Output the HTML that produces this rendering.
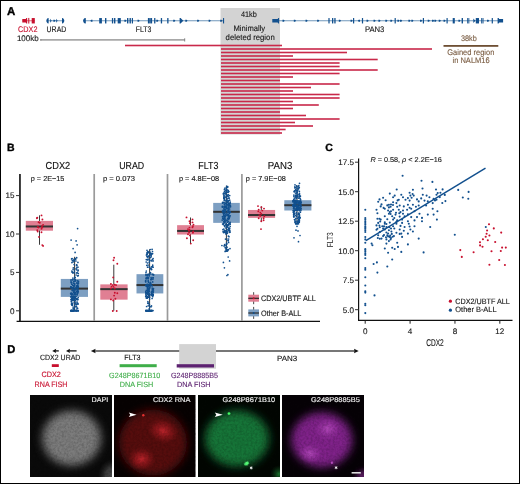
<!DOCTYPE html>
<html><head><meta charset="utf-8"><style>
html,body{margin:0;padding:0;background:#fff;}
svg{display:block;}
text{font-family:"Liberation Sans",sans-serif;text-rendering:geometricPrecision;}
svg{will-change:transform;}
</style></head><body>
<svg width="520" height="484" viewBox="0 0 520 484">
<rect width="520" height="484" fill="#fff"/>
<text x="7.1" y="14.8" font-size="11.3" fill="#000" stroke="#000" stroke-width="0.35" text-anchor="start" font-weight="bold" textLength="8.3" lengthAdjust="spacingAndGlyphs" >A</text>
<rect x="220.5" y="8" width="59.5" height="126.5" fill="#d3d3d3" />
<rect x="125" y="44.7" width="157" height="1.6" fill="#c9294a" />
<rect x="221" y="48.2" width="211" height="1.6" fill="#c9294a" />
<rect x="221" y="51.7" width="126" height="1.6" fill="#c9294a" />
<rect x="221" y="55.2" width="72" height="1.6" fill="#c9294a" />
<rect x="221" y="58.7" width="156.7" height="1.6" fill="#c9294a" />
<rect x="221" y="62.2" width="118.60000000000002" height="1.6" fill="#c9294a" />
<rect x="221" y="65.7" width="118.60000000000002" height="1.6" fill="#c9294a" />
<rect x="221" y="69.2" width="156.7" height="1.6" fill="#c9294a" />
<rect x="221" y="72.7" width="118.60000000000002" height="1.6" fill="#c9294a" />
<rect x="221" y="76.2" width="72" height="1.6" fill="#c9294a" />
<rect x="221" y="79.7" width="59" height="1.6" fill="#c9294a" />
<rect x="221" y="83.2" width="118.60000000000002" height="1.6" fill="#c9294a" />
<rect x="221" y="86.7" width="90" height="1.6" fill="#c9294a" />
<rect x="221" y="90.2" width="72" height="1.6" fill="#c9294a" />
<rect x="221" y="93.7" width="118.60000000000002" height="1.6" fill="#c9294a" />
<rect x="221" y="97.2" width="118.60000000000002" height="1.6" fill="#c9294a" />
<rect x="221" y="100.7" width="72" height="1.6" fill="#c9294a" />
<rect x="221" y="104.2" width="97.80000000000001" height="1.6" fill="#c9294a" />
<rect x="221" y="107.7" width="72" height="1.6" fill="#c9294a" />
<rect x="221" y="111.2" width="59" height="1.6" fill="#c9294a" />
<rect x="221" y="114.7" width="85" height="1.6" fill="#c9294a" />
<rect x="221" y="118.2" width="118.60000000000002" height="1.6" fill="#c9294a" />
<rect x="221" y="121.7" width="74" height="1.6" fill="#c9294a" />
<rect x="221" y="125.2" width="92" height="1.6" fill="#c9294a" />
<rect x="221" y="128.7" width="64.60000000000002" height="1.6" fill="#c9294a" />
<rect x="221" y="132.2" width="61" height="1.6" fill="#c9294a" />
<line x1="22.5" y1="20.75" x2="34.8" y2="20.75" stroke="#c8102e" stroke-width="0.75" opacity="0.8"/>
<path d="M22.3 19.0 L25.8 19.0 L26.3 17.95 L27.1 17.95 L27.1 23.55 L26.3 23.55 L25.8 22.5 L22.3 22.5 Z" fill="#c8102e"/>
<rect x="27.9" y="17.95" width="1.5" height="5.6" fill="#c8102e" opacity="0.75"/>
<rect x="31.7" y="18.05" width="3.099999999999998" height="5.4" fill="#c8102e" />
<line x1="47" y1="20.75" x2="63" y2="20.75" stroke="#12508e" stroke-width="0.75" opacity="0.8"/>
<path d="M48.6 18.05 L48.6 23.45 L47.5 23.15 Q46.3 21.95 46.3 20.75 Q46.3 19.55 47.5 18.35 Z" fill="#12508e"/>
<path d="M62 18.05 L62 23.45 L63.099999999999994 23.15 Q64.3 21.95 64.3 20.75 Q64.3 19.55 63.099999999999994 18.35 Z" fill="#12508e"/>
<path d="M50 18.75 L51.8 20.75 L50 22.75 Z" fill="#12508e" opacity="0.8"/>
<path d="M53.4 19.8 L54.699999999999996 19.8 L55.6 20.75 L54.699999999999996 21.7 L53.4 21.7 Z" fill="#12508e"/>
<path d="M56 18.75 L57.8 20.75 L56 22.75 Z" fill="#12508e" opacity="0.8"/>
<line x1="84" y1="20.75" x2="223.5" y2="20.75" stroke="#12508e" stroke-width="0.75" opacity="0.8"/>
<path d="M85.8 18.05 L85.8 23.45 L84.3 23.15 Q83.1 21.95 83.1 20.75 Q83.1 19.55 84.3 18.35 Z" fill="#12508e"/>
<path d="M92.5 19.8 L91.2 19.8 L90.3 20.75 L91.2 21.7 L92.5 21.7 Z" fill="#12508e"/>
<rect x="99.2" y="18.05" width="2.700000000000003" height="5.4" fill="#12508e" />
<rect x="105" y="18.05" width="1.4000000000000057" height="5.4" fill="#12508e" />
<rect x="111.9" y="18.05" width="1.2999999999999972" height="5.4" fill="#12508e" />
<rect x="114" y="18.05" width="1.4000000000000057" height="5.4" fill="#12508e" />
<rect x="117.7" y="18.05" width="3.0999999999999943" height="5.4" fill="#12508e" />
<rect x="127" y="18.05" width="1.4000000000000057" height="5.4" fill="#12508e" />
<rect x="129.5" y="18.05" width="1.4000000000000057" height="5.4" fill="#12508e" />
<rect x="131.8" y="18.05" width="1.1999999999999886" height="5.4" fill="#12508e" />
<rect x="147.9" y="18.05" width="1.9000000000000057" height="5.4" fill="#12508e" />
<rect x="150.2" y="18.05" width="1.9000000000000057" height="5.4" fill="#12508e" />
<rect x="154.1" y="18.05" width="1.3000000000000114" height="5.4" fill="#12508e" />
<rect x="160.8" y="18.05" width="1.299999999999983" height="5.4" fill="#12508e" />
<rect x="167.2" y="18.05" width="1.3000000000000114" height="5.4" fill="#12508e" />
<rect x="223" y="18.05" width="1.0999999999999943" height="5.4" fill="#12508e" />
<path d="M124.4 19.8 L125.7 19.8 L126.60000000000001 20.75 L125.7 21.7 L124.4 21.7 Z" fill="#12508e"/>
<path d="M137.5 19.8 L138.8 19.8 L139.7 20.75 L138.8 21.7 L137.5 21.7 Z" fill="#12508e"/>
<path d="M156.3 19.8 L157.60000000000002 19.8 L158.5 20.75 L157.60000000000002 21.7 L156.3 21.7 Z" fill="#12508e"/>
<path d="M173.2 19.8 L174.5 19.8 L175.39999999999998 20.75 L174.5 21.7 L173.2 21.7 Z" fill="#12508e"/>
<path d="M185.3 19.8 L186.60000000000002 19.8 L187.5 20.75 L186.60000000000002 21.7 L185.3 21.7 Z" fill="#12508e"/>
<path d="M197.1 19.8 L198.4 19.8 L199.29999999999998 20.75 L198.4 21.7 L197.1 21.7 Z" fill="#12508e"/>
<path d="M208.6 19.8 L209.9 19.8 L210.79999999999998 20.75 L209.9 21.7 L208.6 21.7 Z" fill="#12508e"/>
<path d="M220.2 19.8 L221.5 19.8 L222.39999999999998 20.75 L221.5 21.7 L220.2 21.7 Z" fill="#12508e"/>
<path d="M179.6 18.05 L180.6 18.05 L183.3 20.75 L180.6 23.45 L179.6 23.45 Z" fill="#12508e"/>
<line x1="273" y1="20.75" x2="502" y2="20.75" stroke="#12508e" stroke-width="0.75" opacity="0.8"/>
<path d="M272.3 19.05 L277.7 19.05 L278.3 18.05 L279.1 18.05 L279.1 23.45 L278.3 23.45 L277.7 22.45 L272.3 22.45 Z" fill="#12508e"/>
<path d="M282.5 19.8 L283.8 19.8 L284.7 20.75 L283.8 21.7 L282.5 21.7 Z" fill="#12508e"/>
<path d="M293.8 19.8 L295.1 19.8 L296.0 20.75 L295.1 21.7 L293.8 21.7 Z" fill="#12508e"/>
<path d="M305.5 19.8 L306.8 19.8 L307.7 20.75 L306.8 21.7 L305.5 21.7 Z" fill="#12508e"/>
<path d="M317.1 19.8 L318.40000000000003 19.8 L319.3 20.75 L318.40000000000003 21.7 L317.1 21.7 Z" fill="#12508e"/>
<path d="M338.8 19.8 L340.1 19.8 L341.0 20.75 L340.1 21.7 L338.8 21.7 Z" fill="#12508e"/>
<path d="M350.5 19.8 L351.8 19.8 L352.7 20.75 L351.8 21.7 L350.5 21.7 Z" fill="#12508e"/>
<path d="M366.5 19.8 L367.8 19.8 L368.7 20.75 L367.8 21.7 L366.5 21.7 Z" fill="#12508e"/>
<path d="M373.5 19.8 L374.8 19.8 L375.7 20.75 L374.8 21.7 L373.5 21.7 Z" fill="#12508e"/>
<path d="M378.4 19.8 L379.7 19.8 L380.59999999999997 20.75 L379.7 21.7 L378.4 21.7 Z" fill="#12508e"/>
<path d="M385.3 19.8 L386.6 19.8 L387.5 20.75 L386.6 21.7 L385.3 21.7 Z" fill="#12508e"/>
<path d="M390.3 19.8 L391.6 19.8 L392.5 20.75 L391.6 21.7 L390.3 21.7 Z" fill="#12508e"/>
<path d="M397.4 19.8 L398.7 19.8 L399.59999999999997 20.75 L398.7 21.7 L397.4 21.7 Z" fill="#12508e"/>
<path d="M400 19.8 L401.3 19.8 L402.2 20.75 L401.3 21.7 L400 21.7 Z" fill="#12508e"/>
<path d="M408.4 19.8 L409.7 19.8 L410.59999999999997 20.75 L409.7 21.7 L408.4 21.7 Z" fill="#12508e"/>
<path d="M411.3 19.8 L412.6 19.8 L413.5 20.75 L412.6 21.7 L411.3 21.7 Z" fill="#12508e"/>
<path d="M420 19.8 L421.3 19.8 L422.2 20.75 L421.3 21.7 L420 21.7 Z" fill="#12508e"/>
<path d="M427.7 19.8 L429.0 19.8 L429.9 20.75 L429.0 21.7 L427.7 21.7 Z" fill="#12508e"/>
<path d="M432 19.8 L433.3 19.8 L434.2 20.75 L433.3 21.7 L432 21.7 Z" fill="#12508e"/>
<path d="M434.4 19.8 L435.7 19.8 L436.59999999999997 20.75 L435.7 21.7 L434.4 21.7 Z" fill="#12508e"/>
<path d="M438.7 19.8 L440.0 19.8 L440.9 20.75 L440.0 21.7 L438.7 21.7 Z" fill="#12508e"/>
<path d="M443.5 19.8 L444.8 19.8 L445.7 20.75 L444.8 21.7 L443.5 21.7 Z" fill="#12508e"/>
<path d="M458.4 19.8 L459.7 19.8 L460.59999999999997 20.75 L459.7 21.7 L458.4 21.7 Z" fill="#12508e"/>
<path d="M487 19.8 L488.3 19.8 L489.2 20.75 L488.3 21.7 L487 21.7 Z" fill="#12508e"/>
<path d="M360 19.8 L358.7 19.8 L357.8 20.75 L358.7 21.7 L360 21.7 Z" fill="#12508e"/>
<rect x="328.4" y="18.05" width="1.2000000000000455" height="5.4" fill="#12508e" />
<rect x="332" y="18.05" width="1.3000000000000114" height="5.4" fill="#12508e" />
<rect x="334.3" y="18.05" width="1.3000000000000114" height="5.4" fill="#12508e" />
<rect x="353" y="18.05" width="1.1999999999999886" height="5.4" fill="#12508e" />
<rect x="361.9" y="18.05" width="1.2000000000000455" height="5.4" fill="#12508e" />
<rect x="394.6" y="18.05" width="1.1999999999999886" height="5.4" fill="#12508e" />
<rect x="422.8" y="18.05" width="1.1999999999999886" height="5.4" fill="#12508e" />
<rect x="446.5" y="18.05" width="1.1999999999999886" height="5.4" fill="#12508e" />
<rect x="452.7" y="18.05" width="2.1000000000000227" height="5.4" fill="#12508e" />
<rect x="461.6" y="18.05" width="1.3999999999999773" height="5.4" fill="#12508e" />
<rect x="467.2" y="18.05" width="0.9000000000000341" height="5.4" fill="#12508e" />
<rect x="468.4" y="18.05" width="0.9000000000000341" height="5.4" fill="#12508e" />
<rect x="475.8" y="18.05" width="3.1999999999999886" height="5.4" fill="#12508e" />
<rect x="481.2" y="18.05" width="0.9000000000000341" height="5.4" fill="#12508e" />
<rect x="482.5" y="18.05" width="1.0" height="5.4" fill="#12508e" />
<rect x="491.7" y="18.05" width="1.1999999999999886" height="5.4" fill="#12508e" />
<path d="M473.3 18.55 L475.4 20.75 L473.3 22.95 Z" fill="#12508e"/>
<path d="M497.6 18.05 L498.6 18.05 L499.2 18.95 L503.1 18.95 L503.1 22.55 L499.2 22.55 L498.6 23.45 L497.6 23.45 Z" fill="#12508e"/>
<text x="18.1" y="31.7" font-size="8.1" fill="#c8102e" stroke="#c8102e" stroke-width="0.12" text-anchor="start" font-weight="normal" textLength="19.4" lengthAdjust="spacingAndGlyphs" >CDX2</text>
<text x="46.6" y="31.7" font-size="8.1" fill="#161616" stroke="#161616" stroke-width="0.12" text-anchor="start" font-weight="normal" textLength="19.7" lengthAdjust="spacingAndGlyphs" >URAD</text>
<text x="135.7" y="31.6" font-size="8.1" fill="#161616" stroke="#161616" stroke-width="0.12" text-anchor="start" font-weight="normal" textLength="15.6" lengthAdjust="spacingAndGlyphs" >FLT3</text>
<text x="364.9" y="31.8" font-size="8.1" fill="#161616" stroke="#161616" stroke-width="0.12" text-anchor="start" font-weight="normal" textLength="19.5" lengthAdjust="spacingAndGlyphs" >PAN3</text>
<text x="16.9" y="41.4" font-size="8.1" fill="#161616" stroke="#161616" stroke-width="0.12" text-anchor="start" font-weight="normal" textLength="21.8" lengthAdjust="spacingAndGlyphs" >100kb</text>
<line x1="40.5" y1="39.85" x2="184.7" y2="39.85" stroke="#a8a8a8" stroke-width="1.7" />
<line x1="184.7" y1="38.3" x2="184.7" y2="41.5" stroke="#777" stroke-width="0.9" />
<line x1="40.8" y1="39" x2="40.8" y2="40.8" stroke="#777" stroke-width="0.8" />
<text x="248.9" y="17" font-size="8.1" fill="#161616" stroke="#161616" stroke-width="0.12" text-anchor="middle" font-weight="normal" textLength="15.9" lengthAdjust="spacingAndGlyphs" >41kb</text>
<text x="249.3" y="30.7" font-size="8.1" fill="#161616" stroke="#161616" stroke-width="0.12" text-anchor="middle" font-weight="normal" textLength="31.8" lengthAdjust="spacingAndGlyphs" >Minimally</text>
<text x="250.15" y="40.4" font-size="8.1" fill="#161616" stroke="#161616" stroke-width="0.12" text-anchor="middle" font-weight="normal" textLength="49.1" lengthAdjust="spacingAndGlyphs" >deleted region</text>
<text x="468.9" y="41.1" font-size="8.1" fill="#7a5c42" stroke="#7a5c42" stroke-width="0.12" text-anchor="middle" font-weight="normal" textLength="15.8" lengthAdjust="spacingAndGlyphs" >38kb</text>
<rect x="443.5" y="45" width="54.8" height="1.8" fill="#6e4f33" />
<text x="470.8" y="54.6" font-size="8.1" fill="#7a5c42" stroke="#7a5c42" stroke-width="0.12" text-anchor="middle" font-weight="normal" textLength="47" lengthAdjust="spacingAndGlyphs" >Gained region</text>
<text x="471.1" y="62.8" font-size="8.1" fill="#7a5c42" stroke="#7a5c42" stroke-width="0.12" text-anchor="middle" font-weight="normal" textLength="37.2" lengthAdjust="spacingAndGlyphs" >in NALM16</text>
<text x="6.9" y="150.8" font-size="10.5" fill="#000" stroke="#000" stroke-width="0.35" text-anchor="start" font-weight="bold" >B</text>
<line x1="19.95" y1="174" x2="19.95" y2="321.5" stroke="#262626" stroke-width="1.8" />
<line x1="16.6" y1="321.35" x2="320" y2="321.35" stroke="#111" stroke-width="1.2" />
<line x1="94.2" y1="174" x2="94.2" y2="321" stroke="#9a9a9a" stroke-width="1.7" />
<line x1="167.5" y1="174" x2="167.5" y2="321" stroke="#9a9a9a" stroke-width="1.7" />
<line x1="241.9" y1="174" x2="241.9" y2="321" stroke="#9a9a9a" stroke-width="1.7" />
<line x1="16" y1="310.8" x2="19.6" y2="310.8" stroke="#333" stroke-width="1" />
<text x="14.4" y="313.6" font-size="8.1" fill="#161616" stroke="#161616" stroke-width="0.12" text-anchor="end" font-weight="normal" >0</text>
<line x1="16" y1="272.40000000000003" x2="19.6" y2="272.40000000000003" stroke="#333" stroke-width="1" />
<text x="14.4" y="275.20000000000005" font-size="8.1" fill="#161616" stroke="#161616" stroke-width="0.12" text-anchor="end" font-weight="normal" >5</text>
<line x1="16" y1="234.0" x2="19.6" y2="234.0" stroke="#333" stroke-width="1" />
<text x="14.4" y="236.8" font-size="8.1" fill="#161616" stroke="#161616" stroke-width="0.12" text-anchor="end" font-weight="normal" >10</text>
<line x1="16" y1="195.60000000000002" x2="19.6" y2="195.60000000000002" stroke="#333" stroke-width="1" />
<text x="14.4" y="198.40000000000003" font-size="8.1" fill="#161616" stroke="#161616" stroke-width="0.12" text-anchor="end" font-weight="normal" >15</text>
<text x="57.9" y="169.1" font-size="10.2" fill="#111" stroke="#111" stroke-width="0.12" text-anchor="middle" font-weight="normal" textLength="24.6" lengthAdjust="spacingAndGlyphs" >CDX2</text>
<text x="131.7" y="169.1" font-size="10.2" fill="#111" stroke="#111" stroke-width="0.12" text-anchor="middle" font-weight="normal" textLength="25" lengthAdjust="spacingAndGlyphs" >URAD</text>
<text x="208.3" y="169.3" font-size="10.2" fill="#111" stroke="#111" stroke-width="0.12" text-anchor="middle" font-weight="normal" textLength="20.1" lengthAdjust="spacingAndGlyphs" >FLT3</text>
<text x="280.1" y="169.3" font-size="10.2" fill="#111" stroke="#111" stroke-width="0.12" text-anchor="middle" font-weight="normal" textLength="24.5" lengthAdjust="spacingAndGlyphs" >PAN3</text>
<text x="30.8" y="180.6" font-size="7.2" fill="#161616" stroke="#161616" stroke-width="0.12" text-anchor="start" font-weight="normal" textLength="33.6" lengthAdjust="spacingAndGlyphs" >p = 2E&#8722;15</text>
<text x="102.9" y="180.6" font-size="7.2" fill="#161616" stroke="#161616" stroke-width="0.12" text-anchor="start" font-weight="normal" textLength="32" lengthAdjust="spacingAndGlyphs" >p = 0.073</text>
<text x="178.9" y="180.6" font-size="7.2" fill="#161616" stroke="#161616" stroke-width="0.12" text-anchor="start" font-weight="normal" textLength="40.2" lengthAdjust="spacingAndGlyphs" >p = 4.8E&#8722;08</text>
<text x="245.8" y="180.6" font-size="7.2" fill="#161616" stroke="#161616" stroke-width="0.12" text-anchor="start" font-weight="normal" textLength="40" lengthAdjust="spacingAndGlyphs" >p = 7.9E&#8722;08</text>
<line x1="39.5" y1="215.3376" x2="39.5" y2="244.752" stroke="#3a3a3a" stroke-width="1" />
<rect x="25.8" y="220.86720000000003" width="27.2" height="9.830399999999997" fill="#e07f93" />
<rect x="25.8" y="225.4736" width="27.2" height="2" fill="#333" />
<circle cx="41.5" cy="215.4" r="0.95" fill="#c8102e"/>
<circle cx="37.3" cy="217.6" r="0.95" fill="#c8102e"/>
<circle cx="36.9" cy="218.3" r="0.95" fill="#c8102e"/>
<circle cx="42.4" cy="219.5" r="0.95" fill="#c8102e"/>
<circle cx="38.6" cy="222.2" r="0.95" fill="#c8102e"/>
<circle cx="39.8" cy="222.8" r="0.95" fill="#c8102e"/>
<circle cx="43.1" cy="224.9" r="0.95" fill="#c8102e"/>
<circle cx="41.9" cy="226.1" r="0.95" fill="#c8102e"/>
<circle cx="37.7" cy="226.9" r="0.95" fill="#c8102e"/>
<circle cx="38.6" cy="227.5" r="0.95" fill="#c8102e"/>
<circle cx="42.3" cy="227.4" r="0.95" fill="#c8102e"/>
<circle cx="41.5" cy="228.8" r="0.95" fill="#c8102e"/>
<circle cx="37.3" cy="230.2" r="0.95" fill="#c8102e"/>
<circle cx="37.7" cy="231.5" r="0.95" fill="#c8102e"/>
<circle cx="41.5" cy="232.3" r="0.95" fill="#c8102e"/>
<circle cx="39.0" cy="236.9" r="0.95" fill="#c8102e"/>
<circle cx="42.3" cy="245.1" r="0.95" fill="#c8102e"/>
<circle cx="43.1" cy="245.9" r="0.95" fill="#c8102e"/>
<line x1="74.6" y1="256.8096" x2="74.6" y2="310.8" stroke="#3a3a3a" stroke-width="1" />
<rect x="60.8" y="278.928" width="27.200000000000003" height="17.97120000000001" fill="#7d9fc2" />
<rect x="60.8" y="287.6048" width="27.200000000000003" height="2" fill="#333" />
<circle cx="71.8" cy="294.4" r="0.85" fill="#12508e"/>
<circle cx="71.2" cy="282.8" r="0.85" fill="#12508e"/>
<circle cx="73.5" cy="287.2" r="0.85" fill="#12508e"/>
<circle cx="74.7" cy="304.8" r="0.85" fill="#12508e"/>
<circle cx="74.1" cy="306.9" r="0.85" fill="#12508e"/>
<circle cx="71.6" cy="303.6" r="0.85" fill="#12508e"/>
<circle cx="77.2" cy="291.1" r="0.85" fill="#12508e"/>
<circle cx="72.5" cy="299.9" r="0.85" fill="#12508e"/>
<circle cx="78.2" cy="283.7" r="0.85" fill="#12508e"/>
<circle cx="73.8" cy="285.6" r="0.85" fill="#12508e"/>
<circle cx="71.6" cy="258.9" r="0.85" fill="#12508e"/>
<circle cx="73.1" cy="269.3" r="0.85" fill="#12508e"/>
<circle cx="71.7" cy="299.4" r="0.85" fill="#12508e"/>
<circle cx="77.1" cy="295.0" r="0.85" fill="#12508e"/>
<circle cx="75.2" cy="298.5" r="0.85" fill="#12508e"/>
<circle cx="73.6" cy="283.2" r="0.85" fill="#12508e"/>
<circle cx="71.1" cy="286.8" r="0.85" fill="#12508e"/>
<circle cx="72.5" cy="304.6" r="0.85" fill="#12508e"/>
<circle cx="74.0" cy="281.6" r="0.85" fill="#12508e"/>
<circle cx="75.3" cy="294.8" r="0.85" fill="#12508e"/>
<circle cx="73.0" cy="290.2" r="0.85" fill="#12508e"/>
<circle cx="76.1" cy="275.0" r="0.85" fill="#12508e"/>
<circle cx="75.2" cy="297.0" r="0.85" fill="#12508e"/>
<circle cx="77.6" cy="287.6" r="0.85" fill="#12508e"/>
<circle cx="72.9" cy="279.7" r="0.85" fill="#12508e"/>
<circle cx="72.1" cy="258.6" r="0.85" fill="#12508e"/>
<circle cx="76.7" cy="291.3" r="0.85" fill="#12508e"/>
<circle cx="74.5" cy="299.2" r="0.85" fill="#12508e"/>
<circle cx="75.8" cy="306.7" r="0.85" fill="#12508e"/>
<circle cx="75.2" cy="277.6" r="0.85" fill="#12508e"/>
<circle cx="73.3" cy="267.8" r="0.85" fill="#12508e"/>
<circle cx="75.4" cy="281.0" r="0.85" fill="#12508e"/>
<circle cx="74.2" cy="285.5" r="0.85" fill="#12508e"/>
<circle cx="77.9" cy="271.0" r="0.85" fill="#12508e"/>
<circle cx="75.9" cy="289.5" r="0.85" fill="#12508e"/>
<circle cx="76.0" cy="304.5" r="0.85" fill="#12508e"/>
<circle cx="78.5" cy="282.9" r="0.85" fill="#12508e"/>
<circle cx="73.0" cy="272.6" r="0.85" fill="#12508e"/>
<circle cx="75.9" cy="292.4" r="0.85" fill="#12508e"/>
<circle cx="74.3" cy="308.5" r="0.85" fill="#12508e"/>
<circle cx="71.6" cy="298.8" r="0.85" fill="#12508e"/>
<circle cx="76.5" cy="304.7" r="0.85" fill="#12508e"/>
<circle cx="72.7" cy="299.7" r="0.85" fill="#12508e"/>
<circle cx="77.6" cy="292.2" r="0.85" fill="#12508e"/>
<circle cx="74.2" cy="302.4" r="0.85" fill="#12508e"/>
<circle cx="77.7" cy="286.7" r="0.85" fill="#12508e"/>
<circle cx="77.4" cy="272.8" r="0.85" fill="#12508e"/>
<circle cx="73.9" cy="296.0" r="0.85" fill="#12508e"/>
<circle cx="77.7" cy="293.3" r="0.85" fill="#12508e"/>
<circle cx="72.3" cy="260.5" r="0.85" fill="#12508e"/>
<circle cx="72.5" cy="298.6" r="0.85" fill="#12508e"/>
<circle cx="74.5" cy="297.3" r="0.85" fill="#12508e"/>
<circle cx="72.7" cy="285.2" r="0.85" fill="#12508e"/>
<circle cx="74.1" cy="310.4" r="0.85" fill="#12508e"/>
<circle cx="75.1" cy="292.9" r="0.85" fill="#12508e"/>
<circle cx="75.9" cy="261.0" r="0.85" fill="#12508e"/>
<circle cx="75.5" cy="288.0" r="0.85" fill="#12508e"/>
<circle cx="71.0" cy="281.8" r="0.85" fill="#12508e"/>
<circle cx="76.6" cy="265.7" r="0.85" fill="#12508e"/>
<circle cx="76.7" cy="267.9" r="0.85" fill="#12508e"/>
<circle cx="73.8" cy="292.2" r="0.85" fill="#12508e"/>
<circle cx="75.6" cy="300.3" r="0.85" fill="#12508e"/>
<circle cx="71.5" cy="304.3" r="0.85" fill="#12508e"/>
<circle cx="71.9" cy="297.9" r="0.85" fill="#12508e"/>
<circle cx="71.0" cy="293.9" r="0.85" fill="#12508e"/>
<circle cx="72.4" cy="310.8" r="0.85" fill="#12508e"/>
<circle cx="73.6" cy="300.4" r="0.85" fill="#12508e"/>
<circle cx="77.1" cy="308.2" r="0.85" fill="#12508e"/>
<circle cx="71.8" cy="284.2" r="0.85" fill="#12508e"/>
<circle cx="73.4" cy="296.8" r="0.85" fill="#12508e"/>
<circle cx="71.6" cy="293.1" r="0.85" fill="#12508e"/>
<circle cx="78.2" cy="270.2" r="0.85" fill="#12508e"/>
<circle cx="74.5" cy="289.7" r="0.85" fill="#12508e"/>
<circle cx="71.6" cy="301.9" r="0.85" fill="#12508e"/>
<circle cx="72.7" cy="293.8" r="0.85" fill="#12508e"/>
<circle cx="72.1" cy="272.0" r="0.85" fill="#12508e"/>
<circle cx="77.6" cy="308.4" r="0.85" fill="#12508e"/>
<circle cx="71.8" cy="287.5" r="0.85" fill="#12508e"/>
<circle cx="70.8" cy="286.9" r="0.85" fill="#12508e"/>
<circle cx="78.4" cy="287.5" r="0.85" fill="#12508e"/>
<circle cx="76.0" cy="268.9" r="0.85" fill="#12508e"/>
<circle cx="73.5" cy="296.5" r="0.85" fill="#12508e"/>
<circle cx="76.7" cy="298.9" r="0.85" fill="#12508e"/>
<circle cx="76.8" cy="287.3" r="0.85" fill="#12508e"/>
<circle cx="72.4" cy="294.3" r="0.85" fill="#12508e"/>
<circle cx="78.3" cy="273.5" r="0.85" fill="#12508e"/>
<circle cx="76.8" cy="269.8" r="0.85" fill="#12508e"/>
<circle cx="76.4" cy="272.9" r="0.85" fill="#12508e"/>
<circle cx="74.7" cy="297.4" r="0.85" fill="#12508e"/>
<circle cx="70.8" cy="293.4" r="0.85" fill="#12508e"/>
<circle cx="73.1" cy="307.9" r="0.85" fill="#12508e"/>
<circle cx="76.1" cy="296.6" r="0.85" fill="#12508e"/>
<circle cx="74.2" cy="260.7" r="0.85" fill="#12508e"/>
<circle cx="77.9" cy="262.4" r="0.85" fill="#12508e"/>
<circle cx="73.7" cy="260.8" r="0.85" fill="#12508e"/>
<circle cx="72.4" cy="297.6" r="0.85" fill="#12508e"/>
<circle cx="72.3" cy="298.2" r="0.85" fill="#12508e"/>
<circle cx="77.8" cy="283.8" r="0.85" fill="#12508e"/>
<circle cx="74.4" cy="270.9" r="0.85" fill="#12508e"/>
<circle cx="77.0" cy="282.7" r="0.85" fill="#12508e"/>
<circle cx="75.8" cy="302.0" r="0.85" fill="#12508e"/>
<circle cx="76.6" cy="264.8" r="0.85" fill="#12508e"/>
<circle cx="74.4" cy="278.9" r="0.85" fill="#12508e"/>
<circle cx="76.9" cy="298.6" r="0.85" fill="#12508e"/>
<circle cx="77.0" cy="294.2" r="0.85" fill="#12508e"/>
<circle cx="73.9" cy="259.3" r="0.85" fill="#12508e"/>
<circle cx="78.2" cy="291.9" r="0.85" fill="#12508e"/>
<circle cx="72.0" cy="279.9" r="0.85" fill="#12508e"/>
<circle cx="71.9" cy="299.8" r="0.85" fill="#12508e"/>
<circle cx="76.7" cy="265.2" r="0.85" fill="#12508e"/>
<circle cx="77.1" cy="299.3" r="0.85" fill="#12508e"/>
<circle cx="75.6" cy="258.6" r="0.85" fill="#12508e"/>
<circle cx="75.0" cy="293.6" r="0.85" fill="#12508e"/>
<circle cx="70.9" cy="299.7" r="0.85" fill="#12508e"/>
<circle cx="75.6" cy="259.4" r="0.85" fill="#12508e"/>
<circle cx="78.1" cy="287.6" r="0.85" fill="#12508e"/>
<circle cx="77.6" cy="290.8" r="0.85" fill="#12508e"/>
<circle cx="72.4" cy="272.2" r="0.85" fill="#12508e"/>
<circle cx="72.9" cy="296.8" r="0.85" fill="#12508e"/>
<circle cx="75.3" cy="297.1" r="0.85" fill="#12508e"/>
<circle cx="74.0" cy="296.6" r="0.85" fill="#12508e"/>
<circle cx="77.7" cy="299.7" r="0.85" fill="#12508e"/>
<circle cx="74.3" cy="293.5" r="0.85" fill="#12508e"/>
<circle cx="77.8" cy="285.4" r="0.85" fill="#12508e"/>
<circle cx="77.9" cy="291.2" r="0.85" fill="#12508e"/>
<circle cx="74.9" cy="288.5" r="0.85" fill="#12508e"/>
<circle cx="70.7" cy="287.7" r="0.85" fill="#12508e"/>
<circle cx="72.1" cy="290.6" r="0.85" fill="#12508e"/>
<circle cx="76.5" cy="310.4" r="0.85" fill="#12508e"/>
<circle cx="74.4" cy="298.7" r="0.85" fill="#12508e"/>
<circle cx="75.1" cy="279.9" r="0.85" fill="#12508e"/>
<circle cx="74.7" cy="294.4" r="0.85" fill="#12508e"/>
<circle cx="76.9" cy="286.5" r="0.85" fill="#12508e"/>
<circle cx="75.1" cy="300.3" r="0.85" fill="#12508e"/>
<circle cx="72.8" cy="296.9" r="0.85" fill="#12508e"/>
<circle cx="74.7" cy="277.0" r="0.85" fill="#12508e"/>
<circle cx="76.7" cy="286.2" r="0.85" fill="#12508e"/>
<circle cx="74.2" cy="264.6" r="0.85" fill="#12508e"/>
<circle cx="74.6" cy="284.2" r="0.85" fill="#12508e"/>
<circle cx="76.1" cy="288.1" r="0.85" fill="#12508e"/>
<circle cx="74.9" cy="290.2" r="0.85" fill="#12508e"/>
<circle cx="78.1" cy="289.3" r="0.85" fill="#12508e"/>
<circle cx="77.6" cy="280.9" r="0.85" fill="#12508e"/>
<circle cx="73.0" cy="261.9" r="0.85" fill="#12508e"/>
<circle cx="78.1" cy="286.3" r="0.85" fill="#12508e"/>
<circle cx="71.9" cy="271.0" r="0.85" fill="#12508e"/>
<circle cx="74.2" cy="299.9" r="0.85" fill="#12508e"/>
<circle cx="72.7" cy="303.3" r="0.85" fill="#12508e"/>
<circle cx="75.8" cy="303.2" r="0.85" fill="#12508e"/>
<circle cx="77.7" cy="275.9" r="0.85" fill="#12508e"/>
<circle cx="76.3" cy="299.1" r="0.85" fill="#12508e"/>
<circle cx="71.7" cy="282.4" r="0.85" fill="#12508e"/>
<circle cx="77.9" cy="267.2" r="0.85" fill="#12508e"/>
<circle cx="78.2" cy="297.6" r="0.85" fill="#12508e"/>
<circle cx="74.5" cy="292.0" r="0.85" fill="#12508e"/>
<circle cx="76.7" cy="257.7" r="0.85" fill="#12508e"/>
<circle cx="74.1" cy="299.0" r="0.85" fill="#12508e"/>
<circle cx="73.3" cy="288.0" r="0.85" fill="#12508e"/>
<circle cx="73.2" cy="298.2" r="0.85" fill="#12508e"/>
<circle cx="70.8" cy="280.0" r="0.85" fill="#12508e"/>
<circle cx="74.1" cy="286.5" r="0.85" fill="#12508e"/>
<circle cx="73.5" cy="308.9" r="0.85" fill="#12508e"/>
<circle cx="74.7" cy="283.8" r="0.85" fill="#12508e"/>
<circle cx="78.1" cy="304.1" r="0.85" fill="#12508e"/>
<circle cx="78.3" cy="275.5" r="0.85" fill="#12508e"/>
<circle cx="72.8" cy="300.3" r="0.85" fill="#12508e"/>
<circle cx="76.5" cy="306.7" r="0.85" fill="#12508e"/>
<circle cx="71.6" cy="296.2" r="0.85" fill="#12508e"/>
<circle cx="77.9" cy="291.2" r="0.85" fill="#12508e"/>
<circle cx="72.8" cy="272.8" r="0.85" fill="#12508e"/>
<circle cx="77.8" cy="299.3" r="0.85" fill="#12508e"/>
<circle cx="76.2" cy="285.9" r="0.85" fill="#12508e"/>
<circle cx="71.3" cy="301.5" r="0.85" fill="#12508e"/>
<circle cx="74.0" cy="281.3" r="0.85" fill="#12508e"/>
<circle cx="77.8" cy="303.3" r="0.85" fill="#12508e"/>
<circle cx="77.0" cy="283.4" r="0.85" fill="#12508e"/>
<circle cx="77.2" cy="302.1" r="0.85" fill="#12508e"/>
<circle cx="77.2" cy="303.9" r="0.85" fill="#12508e"/>
<circle cx="73.3" cy="290.1" r="0.85" fill="#12508e"/>
<circle cx="78.0" cy="286.6" r="0.85" fill="#12508e"/>
<circle cx="71.6" cy="296.3" r="0.85" fill="#12508e"/>
<circle cx="72.5" cy="287.6" r="0.85" fill="#12508e"/>
<circle cx="72.0" cy="300.2" r="0.85" fill="#12508e"/>
<circle cx="72.5" cy="305.6" r="0.85" fill="#12508e"/>
<circle cx="73.0" cy="294.8" r="0.85" fill="#12508e"/>
<circle cx="72.9" cy="278.1" r="0.85" fill="#12508e"/>
<circle cx="72.0" cy="288.6" r="0.85" fill="#12508e"/>
<circle cx="70.7" cy="293.7" r="0.85" fill="#12508e"/>
<circle cx="70.7" cy="296.9" r="0.85" fill="#12508e"/>
<circle cx="75.0" cy="279.6" r="0.85" fill="#12508e"/>
<circle cx="74.4" cy="298.3" r="0.85" fill="#12508e"/>
<circle cx="71.9" cy="262.6" r="0.85" fill="#12508e"/>
<circle cx="74.1" cy="272.8" r="0.85" fill="#12508e"/>
<circle cx="77.3" cy="288.8" r="0.85" fill="#12508e"/>
<circle cx="74.7" cy="292.2" r="0.85" fill="#12508e"/>
<circle cx="78.5" cy="281.3" r="0.85" fill="#12508e"/>
<circle cx="77.3" cy="293.8" r="0.85" fill="#12508e"/>
<circle cx="75.7" cy="280.6" r="0.85" fill="#12508e"/>
<circle cx="73.4" cy="291.8" r="0.85" fill="#12508e"/>
<circle cx="72.0" cy="305.2" r="0.85" fill="#12508e"/>
<circle cx="71.3" cy="310.6" r="0.85" fill="#12508e"/>
<circle cx="72.7" cy="310.8" r="0.85" fill="#12508e"/>
<circle cx="71.4" cy="310.6" r="0.85" fill="#12508e"/>
<circle cx="77.4" cy="310.6" r="0.85" fill="#12508e"/>
<circle cx="72.9" cy="310.7" r="0.85" fill="#12508e"/>
<circle cx="73.0" cy="310.7" r="0.85" fill="#12508e"/>
<circle cx="72.0" cy="310.7" r="0.85" fill="#12508e"/>
<circle cx="72.8" cy="310.6" r="0.85" fill="#12508e"/>
<circle cx="78.2" cy="310.7" r="0.85" fill="#12508e"/>
<circle cx="72.7" cy="310.6" r="0.85" fill="#12508e"/>
<circle cx="73.2" cy="310.7" r="0.85" fill="#12508e"/>
<circle cx="70.8" cy="310.7" r="0.85" fill="#12508e"/>
<circle cx="74.4" cy="310.7" r="0.85" fill="#12508e"/>
<circle cx="72.3" cy="310.7" r="0.85" fill="#12508e"/>
<circle cx="70.8" cy="310.7" r="0.85" fill="#12508e"/>
<circle cx="71.5" cy="310.7" r="0.85" fill="#12508e"/>
<circle cx="71.1" cy="310.8" r="0.85" fill="#12508e"/>
<circle cx="73.1" cy="310.7" r="0.85" fill="#12508e"/>
<circle cx="75.3" cy="310.7" r="0.85" fill="#12508e"/>
<circle cx="76.5" cy="310.6" r="0.85" fill="#12508e"/>
<circle cx="76.2" cy="310.6" r="0.85" fill="#12508e"/>
<circle cx="73.8" cy="310.7" r="0.85" fill="#12508e"/>
<circle cx="78.3" cy="310.8" r="0.85" fill="#12508e"/>
<circle cx="76.3" cy="310.7" r="0.85" fill="#12508e"/>
<circle cx="71.1" cy="310.6" r="0.85" fill="#12508e"/>
<circle cx="77.6" cy="310.7" r="0.85" fill="#12508e"/>
<circle cx="76.4" cy="310.6" r="0.85" fill="#12508e"/>
<circle cx="71.9" cy="310.7" r="0.85" fill="#12508e"/>
<circle cx="74.6" cy="310.6" r="0.85" fill="#12508e"/>
<circle cx="76.9" cy="310.6" r="0.85" fill="#12508e"/>
<circle cx="75.2" cy="310.6" r="0.85" fill="#12508e"/>
<circle cx="76.0" cy="310.6" r="0.85" fill="#12508e"/>
<circle cx="72.5" cy="310.8" r="0.85" fill="#12508e"/>
<circle cx="71.8" cy="310.7" r="0.85" fill="#12508e"/>
<circle cx="71.6" cy="310.6" r="0.85" fill="#12508e"/>
<circle cx="77.6" cy="228.6" r="0.85" fill="#12508e"/>
<circle cx="71.1" cy="240.1" r="0.85" fill="#12508e"/>
<circle cx="76.1" cy="240.9" r="0.85" fill="#12508e"/>
<circle cx="77.1" cy="244.8" r="0.85" fill="#12508e"/>
<circle cx="73.1" cy="248.6" r="0.85" fill="#12508e"/>
<circle cx="75.1" cy="252.4" r="0.85" fill="#12508e"/>
<line x1="113.8" y1="264.72" x2="113.8" y2="310.8" stroke="#3a3a3a" stroke-width="1" />
<rect x="100.3" y="284.3808" width="27.299999999999997" height="15.283199999999965" fill="#e07f93" />
<rect x="100.3" y="288.1424" width="27.299999999999997" height="2" fill="#333" />
<circle cx="114.1" cy="257.8" r="0.95" fill="#c8102e"/>
<circle cx="113.5" cy="260.3" r="0.95" fill="#c8102e"/>
<circle cx="117.3" cy="263.8" r="0.95" fill="#c8102e"/>
<circle cx="113.2" cy="277.4" r="0.95" fill="#c8102e"/>
<circle cx="117.3" cy="281.7" r="0.95" fill="#c8102e"/>
<circle cx="110.9" cy="284.0" r="0.95" fill="#c8102e"/>
<circle cx="112.8" cy="285.1" r="0.95" fill="#c8102e"/>
<circle cx="114.8" cy="284.7" r="0.95" fill="#c8102e"/>
<circle cx="116.1" cy="285.1" r="0.95" fill="#c8102e"/>
<circle cx="111.6" cy="286.6" r="0.95" fill="#c8102e"/>
<circle cx="113.5" cy="286.9" r="0.95" fill="#c8102e"/>
<circle cx="110.9" cy="288.5" r="0.95" fill="#c8102e"/>
<circle cx="114.8" cy="288.5" r="0.95" fill="#c8102e"/>
<circle cx="114.8" cy="292.8" r="0.95" fill="#c8102e"/>
<circle cx="117.3" cy="293.3" r="0.95" fill="#c8102e"/>
<circle cx="114.1" cy="295.6" r="0.95" fill="#c8102e"/>
<circle cx="110.9" cy="299.4" r="0.95" fill="#c8102e"/>
<circle cx="115.4" cy="298.8" r="0.95" fill="#c8102e"/>
<circle cx="113.2" cy="300.5" r="0.95" fill="#c8102e"/>
<circle cx="112.8" cy="311.0" r="0.95" fill="#c8102e"/>
<circle cx="116.7" cy="311.0" r="0.95" fill="#c8102e"/>
<line x1="149.6" y1="249.36" x2="149.6" y2="310.8" stroke="#3a3a3a" stroke-width="1" />
<rect x="136.5" y="274.1664" width="26.80000000000001" height="19.27679999999998" fill="#7d9fc2" />
<rect x="136.5" y="284.072" width="26.80000000000001" height="2" fill="#333" />
<circle cx="150.6" cy="282.4" r="0.85" fill="#12508e"/>
<circle cx="151.0" cy="279.5" r="0.85" fill="#12508e"/>
<circle cx="145.6" cy="285.3" r="0.85" fill="#12508e"/>
<circle cx="151.5" cy="269.4" r="0.85" fill="#12508e"/>
<circle cx="149.9" cy="284.8" r="0.85" fill="#12508e"/>
<circle cx="146.1" cy="278.1" r="0.85" fill="#12508e"/>
<circle cx="147.6" cy="274.7" r="0.85" fill="#12508e"/>
<circle cx="147.9" cy="301.7" r="0.85" fill="#12508e"/>
<circle cx="147.2" cy="275.1" r="0.85" fill="#12508e"/>
<circle cx="153.4" cy="274.6" r="0.85" fill="#12508e"/>
<circle cx="148.7" cy="285.1" r="0.85" fill="#12508e"/>
<circle cx="151.1" cy="285.6" r="0.85" fill="#12508e"/>
<circle cx="150.5" cy="272.5" r="0.85" fill="#12508e"/>
<circle cx="146.2" cy="278.8" r="0.85" fill="#12508e"/>
<circle cx="147.7" cy="296.9" r="0.85" fill="#12508e"/>
<circle cx="148.0" cy="274.5" r="0.85" fill="#12508e"/>
<circle cx="145.7" cy="282.0" r="0.85" fill="#12508e"/>
<circle cx="148.0" cy="303.3" r="0.85" fill="#12508e"/>
<circle cx="151.1" cy="277.5" r="0.85" fill="#12508e"/>
<circle cx="147.9" cy="277.4" r="0.85" fill="#12508e"/>
<circle cx="149.3" cy="284.2" r="0.85" fill="#12508e"/>
<circle cx="146.5" cy="286.1" r="0.85" fill="#12508e"/>
<circle cx="147.5" cy="259.9" r="0.85" fill="#12508e"/>
<circle cx="152.5" cy="251.5" r="0.85" fill="#12508e"/>
<circle cx="149.3" cy="308.6" r="0.85" fill="#12508e"/>
<circle cx="153.1" cy="267.2" r="0.85" fill="#12508e"/>
<circle cx="147.7" cy="286.7" r="0.85" fill="#12508e"/>
<circle cx="153.1" cy="294.9" r="0.85" fill="#12508e"/>
<circle cx="150.2" cy="294.8" r="0.85" fill="#12508e"/>
<circle cx="149.8" cy="297.1" r="0.85" fill="#12508e"/>
<circle cx="147.1" cy="254.0" r="0.85" fill="#12508e"/>
<circle cx="149.7" cy="267.2" r="0.85" fill="#12508e"/>
<circle cx="151.0" cy="260.6" r="0.85" fill="#12508e"/>
<circle cx="152.8" cy="294.1" r="0.85" fill="#12508e"/>
<circle cx="145.8" cy="285.4" r="0.85" fill="#12508e"/>
<circle cx="149.5" cy="310.4" r="0.85" fill="#12508e"/>
<circle cx="148.0" cy="286.6" r="0.85" fill="#12508e"/>
<circle cx="148.4" cy="297.2" r="0.85" fill="#12508e"/>
<circle cx="152.3" cy="291.2" r="0.85" fill="#12508e"/>
<circle cx="151.2" cy="310.6" r="0.85" fill="#12508e"/>
<circle cx="146.8" cy="265.3" r="0.85" fill="#12508e"/>
<circle cx="151.1" cy="256.7" r="0.85" fill="#12508e"/>
<circle cx="148.1" cy="259.1" r="0.85" fill="#12508e"/>
<circle cx="148.7" cy="289.3" r="0.85" fill="#12508e"/>
<circle cx="150.2" cy="249.5" r="0.85" fill="#12508e"/>
<circle cx="149.0" cy="289.7" r="0.85" fill="#12508e"/>
<circle cx="146.0" cy="292.7" r="0.85" fill="#12508e"/>
<circle cx="152.1" cy="298.5" r="0.85" fill="#12508e"/>
<circle cx="153.1" cy="292.3" r="0.85" fill="#12508e"/>
<circle cx="147.7" cy="293.5" r="0.85" fill="#12508e"/>
<circle cx="147.1" cy="284.4" r="0.85" fill="#12508e"/>
<circle cx="153.2" cy="289.3" r="0.85" fill="#12508e"/>
<circle cx="151.8" cy="260.8" r="0.85" fill="#12508e"/>
<circle cx="152.9" cy="279.3" r="0.85" fill="#12508e"/>
<circle cx="149.9" cy="255.2" r="0.85" fill="#12508e"/>
<circle cx="146.0" cy="275.5" r="0.85" fill="#12508e"/>
<circle cx="149.2" cy="274.9" r="0.85" fill="#12508e"/>
<circle cx="150.8" cy="273.9" r="0.85" fill="#12508e"/>
<circle cx="146.0" cy="292.3" r="0.85" fill="#12508e"/>
<circle cx="147.0" cy="256.6" r="0.85" fill="#12508e"/>
<circle cx="148.3" cy="285.9" r="0.85" fill="#12508e"/>
<circle cx="151.5" cy="291.9" r="0.85" fill="#12508e"/>
<circle cx="148.0" cy="251.7" r="0.85" fill="#12508e"/>
<circle cx="148.0" cy="278.2" r="0.85" fill="#12508e"/>
<circle cx="148.8" cy="282.5" r="0.85" fill="#12508e"/>
<circle cx="147.0" cy="296.3" r="0.85" fill="#12508e"/>
<circle cx="152.8" cy="294.9" r="0.85" fill="#12508e"/>
<circle cx="147.4" cy="285.0" r="0.85" fill="#12508e"/>
<circle cx="153.1" cy="258.7" r="0.85" fill="#12508e"/>
<circle cx="146.7" cy="286.6" r="0.85" fill="#12508e"/>
<circle cx="146.4" cy="295.4" r="0.85" fill="#12508e"/>
<circle cx="146.3" cy="290.4" r="0.85" fill="#12508e"/>
<circle cx="147.7" cy="293.9" r="0.85" fill="#12508e"/>
<circle cx="152.7" cy="281.9" r="0.85" fill="#12508e"/>
<circle cx="148.9" cy="274.2" r="0.85" fill="#12508e"/>
<circle cx="149.8" cy="287.9" r="0.85" fill="#12508e"/>
<circle cx="148.3" cy="289.2" r="0.85" fill="#12508e"/>
<circle cx="148.0" cy="303.2" r="0.85" fill="#12508e"/>
<circle cx="147.1" cy="252.6" r="0.85" fill="#12508e"/>
<circle cx="150.6" cy="284.8" r="0.85" fill="#12508e"/>
<circle cx="147.5" cy="263.0" r="0.85" fill="#12508e"/>
<circle cx="147.6" cy="292.8" r="0.85" fill="#12508e"/>
<circle cx="149.2" cy="288.4" r="0.85" fill="#12508e"/>
<circle cx="151.9" cy="253.9" r="0.85" fill="#12508e"/>
<circle cx="146.2" cy="262.0" r="0.85" fill="#12508e"/>
<circle cx="151.0" cy="306.8" r="0.85" fill="#12508e"/>
<circle cx="149.4" cy="259.7" r="0.85" fill="#12508e"/>
<circle cx="145.6" cy="281.2" r="0.85" fill="#12508e"/>
<circle cx="153.0" cy="288.7" r="0.85" fill="#12508e"/>
<circle cx="152.3" cy="266.7" r="0.85" fill="#12508e"/>
<circle cx="147.9" cy="252.1" r="0.85" fill="#12508e"/>
<circle cx="147.0" cy="298.2" r="0.85" fill="#12508e"/>
<circle cx="151.1" cy="284.0" r="0.85" fill="#12508e"/>
<circle cx="151.1" cy="255.2" r="0.85" fill="#12508e"/>
<circle cx="151.7" cy="278.6" r="0.85" fill="#12508e"/>
<circle cx="150.0" cy="286.4" r="0.85" fill="#12508e"/>
<circle cx="151.5" cy="305.9" r="0.85" fill="#12508e"/>
<circle cx="152.9" cy="294.1" r="0.85" fill="#12508e"/>
<circle cx="148.0" cy="278.7" r="0.85" fill="#12508e"/>
<circle cx="147.7" cy="297.6" r="0.85" fill="#12508e"/>
<circle cx="151.2" cy="279.1" r="0.85" fill="#12508e"/>
<circle cx="146.3" cy="298.1" r="0.85" fill="#12508e"/>
<circle cx="150.3" cy="283.9" r="0.85" fill="#12508e"/>
<circle cx="147.4" cy="288.8" r="0.85" fill="#12508e"/>
<circle cx="145.7" cy="280.6" r="0.85" fill="#12508e"/>
<circle cx="149.3" cy="291.7" r="0.85" fill="#12508e"/>
<circle cx="150.6" cy="253.4" r="0.85" fill="#12508e"/>
<circle cx="149.4" cy="260.9" r="0.85" fill="#12508e"/>
<circle cx="147.6" cy="294.0" r="0.85" fill="#12508e"/>
<circle cx="151.0" cy="253.3" r="0.85" fill="#12508e"/>
<circle cx="145.8" cy="291.5" r="0.85" fill="#12508e"/>
<circle cx="151.0" cy="285.0" r="0.85" fill="#12508e"/>
<circle cx="147.7" cy="287.7" r="0.85" fill="#12508e"/>
<circle cx="153.0" cy="277.7" r="0.85" fill="#12508e"/>
<circle cx="145.9" cy="294.3" r="0.85" fill="#12508e"/>
<circle cx="149.0" cy="290.5" r="0.85" fill="#12508e"/>
<circle cx="147.2" cy="277.1" r="0.85" fill="#12508e"/>
<circle cx="151.4" cy="269.5" r="0.85" fill="#12508e"/>
<circle cx="147.2" cy="284.7" r="0.85" fill="#12508e"/>
<circle cx="148.4" cy="252.4" r="0.85" fill="#12508e"/>
<circle cx="147.6" cy="267.2" r="0.85" fill="#12508e"/>
<circle cx="151.7" cy="294.5" r="0.85" fill="#12508e"/>
<circle cx="153.2" cy="292.0" r="0.85" fill="#12508e"/>
<circle cx="147.1" cy="285.1" r="0.85" fill="#12508e"/>
<circle cx="148.9" cy="294.4" r="0.85" fill="#12508e"/>
<circle cx="153.2" cy="277.8" r="0.85" fill="#12508e"/>
<circle cx="148.8" cy="297.0" r="0.85" fill="#12508e"/>
<circle cx="153.3" cy="294.8" r="0.85" fill="#12508e"/>
<circle cx="146.2" cy="297.1" r="0.85" fill="#12508e"/>
<circle cx="148.8" cy="303.4" r="0.85" fill="#12508e"/>
<circle cx="152.3" cy="259.5" r="0.85" fill="#12508e"/>
<circle cx="153.6" cy="274.9" r="0.85" fill="#12508e"/>
<circle cx="148.4" cy="256.1" r="0.85" fill="#12508e"/>
<circle cx="153.0" cy="295.7" r="0.85" fill="#12508e"/>
<circle cx="145.9" cy="274.3" r="0.85" fill="#12508e"/>
<circle cx="148.6" cy="277.8" r="0.85" fill="#12508e"/>
<circle cx="148.3" cy="289.3" r="0.85" fill="#12508e"/>
<circle cx="145.7" cy="296.2" r="0.85" fill="#12508e"/>
<circle cx="148.4" cy="292.5" r="0.85" fill="#12508e"/>
<circle cx="147.1" cy="253.8" r="0.85" fill="#12508e"/>
<circle cx="147.7" cy="252.9" r="0.85" fill="#12508e"/>
<circle cx="152.2" cy="289.9" r="0.85" fill="#12508e"/>
<circle cx="149.1" cy="267.0" r="0.85" fill="#12508e"/>
<circle cx="149.4" cy="304.7" r="0.85" fill="#12508e"/>
<circle cx="153.0" cy="289.3" r="0.85" fill="#12508e"/>
<circle cx="148.5" cy="295.4" r="0.85" fill="#12508e"/>
<circle cx="146.3" cy="259.6" r="0.85" fill="#12508e"/>
<circle cx="152.1" cy="288.0" r="0.85" fill="#12508e"/>
<circle cx="146.0" cy="272.5" r="0.85" fill="#12508e"/>
<circle cx="146.6" cy="306.5" r="0.85" fill="#12508e"/>
<circle cx="147.9" cy="257.3" r="0.85" fill="#12508e"/>
<circle cx="152.8" cy="274.3" r="0.85" fill="#12508e"/>
<circle cx="147.8" cy="290.5" r="0.85" fill="#12508e"/>
<circle cx="150.4" cy="253.6" r="0.85" fill="#12508e"/>
<circle cx="151.3" cy="293.1" r="0.85" fill="#12508e"/>
<circle cx="147.8" cy="291.2" r="0.85" fill="#12508e"/>
<circle cx="151.2" cy="310.3" r="0.85" fill="#12508e"/>
<circle cx="150.5" cy="257.6" r="0.85" fill="#12508e"/>
<circle cx="146.4" cy="255.0" r="0.85" fill="#12508e"/>
<circle cx="149.4" cy="294.1" r="0.85" fill="#12508e"/>
<circle cx="152.6" cy="253.6" r="0.85" fill="#12508e"/>
<circle cx="147.6" cy="288.8" r="0.85" fill="#12508e"/>
<circle cx="149.5" cy="287.3" r="0.85" fill="#12508e"/>
<circle cx="147.4" cy="256.5" r="0.85" fill="#12508e"/>
<circle cx="151.4" cy="269.0" r="0.85" fill="#12508e"/>
<circle cx="151.7" cy="266.9" r="0.85" fill="#12508e"/>
<circle cx="148.2" cy="280.3" r="0.85" fill="#12508e"/>
<circle cx="148.5" cy="291.1" r="0.85" fill="#12508e"/>
<circle cx="146.3" cy="271.0" r="0.85" fill="#12508e"/>
<circle cx="151.6" cy="295.3" r="0.85" fill="#12508e"/>
<circle cx="146.1" cy="293.6" r="0.85" fill="#12508e"/>
<circle cx="150.0" cy="306.6" r="0.85" fill="#12508e"/>
<circle cx="153.4" cy="290.9" r="0.85" fill="#12508e"/>
<circle cx="153.1" cy="260.9" r="0.85" fill="#12508e"/>
<circle cx="146.3" cy="293.0" r="0.85" fill="#12508e"/>
<circle cx="149.6" cy="299.0" r="0.85" fill="#12508e"/>
<circle cx="149.2" cy="275.9" r="0.85" fill="#12508e"/>
<circle cx="148.9" cy="294.0" r="0.85" fill="#12508e"/>
<circle cx="151.0" cy="279.7" r="0.85" fill="#12508e"/>
<circle cx="152.4" cy="274.3" r="0.85" fill="#12508e"/>
<circle cx="146.6" cy="277.8" r="0.85" fill="#12508e"/>
<circle cx="148.1" cy="265.1" r="0.85" fill="#12508e"/>
<circle cx="148.6" cy="282.0" r="0.85" fill="#12508e"/>
<circle cx="147.2" cy="274.7" r="0.85" fill="#12508e"/>
<circle cx="147.6" cy="293.6" r="0.85" fill="#12508e"/>
<circle cx="152.6" cy="296.7" r="0.85" fill="#12508e"/>
<circle cx="148.2" cy="281.6" r="0.85" fill="#12508e"/>
<circle cx="153.5" cy="288.5" r="0.85" fill="#12508e"/>
<circle cx="147.5" cy="284.6" r="0.85" fill="#12508e"/>
<circle cx="150.8" cy="268.4" r="0.85" fill="#12508e"/>
<circle cx="147.0" cy="250.3" r="0.85" fill="#12508e"/>
<circle cx="152.2" cy="285.8" r="0.85" fill="#12508e"/>
<circle cx="152.7" cy="265.2" r="0.85" fill="#12508e"/>
<circle cx="148.2" cy="305.8" r="0.85" fill="#12508e"/>
<circle cx="147.2" cy="297.9" r="0.85" fill="#12508e"/>
<circle cx="150.1" cy="252.0" r="0.85" fill="#12508e"/>
<circle cx="148.7" cy="256.3" r="0.85" fill="#12508e"/>
<circle cx="149.2" cy="262.6" r="0.85" fill="#12508e"/>
<circle cx="151.8" cy="293.2" r="0.85" fill="#12508e"/>
<circle cx="146.9" cy="254.7" r="0.85" fill="#12508e"/>
<circle cx="150.3" cy="310.7" r="0.85" fill="#12508e"/>
<circle cx="147.5" cy="310.7" r="0.85" fill="#12508e"/>
<circle cx="146.9" cy="310.8" r="0.85" fill="#12508e"/>
<circle cx="147.7" cy="310.7" r="0.85" fill="#12508e"/>
<circle cx="150.8" cy="310.8" r="0.85" fill="#12508e"/>
<circle cx="145.9" cy="310.7" r="0.85" fill="#12508e"/>
<circle cx="151.0" cy="310.8" r="0.85" fill="#12508e"/>
<circle cx="148.2" cy="310.8" r="0.85" fill="#12508e"/>
<circle cx="151.8" cy="310.7" r="0.85" fill="#12508e"/>
<circle cx="146.3" cy="310.8" r="0.85" fill="#12508e"/>
<circle cx="148.8" cy="310.7" r="0.85" fill="#12508e"/>
<circle cx="150.7" cy="310.8" r="0.85" fill="#12508e"/>
<circle cx="147.0" cy="310.6" r="0.85" fill="#12508e"/>
<circle cx="148.9" cy="310.7" r="0.85" fill="#12508e"/>
<circle cx="148.1" cy="310.6" r="0.85" fill="#12508e"/>
<circle cx="148.2" cy="310.7" r="0.85" fill="#12508e"/>
<circle cx="148.5" cy="310.7" r="0.85" fill="#12508e"/>
<circle cx="152.4" cy="310.6" r="0.85" fill="#12508e"/>
<circle cx="148.6" cy="310.8" r="0.85" fill="#12508e"/>
<circle cx="151.3" cy="310.8" r="0.85" fill="#12508e"/>
<circle cx="145.8" cy="310.6" r="0.85" fill="#12508e"/>
<circle cx="149.0" cy="310.6" r="0.85" fill="#12508e"/>
<circle cx="148.9" cy="310.6" r="0.85" fill="#12508e"/>
<circle cx="149.3" cy="310.8" r="0.85" fill="#12508e"/>
<circle cx="145.9" cy="310.7" r="0.85" fill="#12508e"/>
<circle cx="150.7" cy="310.6" r="0.85" fill="#12508e"/>
<circle cx="146.5" cy="310.7" r="0.85" fill="#12508e"/>
<circle cx="148.6" cy="310.7" r="0.85" fill="#12508e"/>
<circle cx="146.9" cy="310.7" r="0.85" fill="#12508e"/>
<circle cx="149.8" cy="310.6" r="0.85" fill="#12508e"/>
<circle cx="146.6" cy="310.7" r="0.85" fill="#12508e"/>
<circle cx="151.9" cy="310.6" r="0.85" fill="#12508e"/>
<circle cx="147.3" cy="310.8" r="0.85" fill="#12508e"/>
<circle cx="153.0" cy="310.6" r="0.85" fill="#12508e"/>
<circle cx="149.5" cy="310.8" r="0.85" fill="#12508e"/>
<circle cx="152.1" cy="249.4" r="0.85" fill="#12508e"/>
<circle cx="147.6" cy="252.4" r="0.85" fill="#12508e"/>
<circle cx="151.1" cy="254.7" r="0.85" fill="#12508e"/>
<line x1="190.5" y1="217.488" x2="190.5" y2="243.60000000000002" stroke="#3a3a3a" stroke-width="1" />
<rect x="177.1" y="225.168" width="26.900000000000006" height="9.369599999999991" fill="#e07f93" />
<rect x="177.1" y="229.928" width="26.900000000000006" height="2" fill="#333" />
<circle cx="186.5" cy="217.4" r="0.95" fill="#c8102e"/>
<circle cx="192.5" cy="219.4" r="0.95" fill="#c8102e"/>
<circle cx="189.5" cy="221.3" r="0.95" fill="#c8102e"/>
<circle cx="189.9" cy="223.2" r="0.95" fill="#c8102e"/>
<circle cx="192.5" cy="222.4" r="0.95" fill="#c8102e"/>
<circle cx="193.5" cy="224.6" r="0.95" fill="#c8102e"/>
<circle cx="192.9" cy="226.1" r="0.95" fill="#c8102e"/>
<circle cx="192.5" cy="227.3" r="0.95" fill="#c8102e"/>
<circle cx="189.5" cy="227.6" r="0.95" fill="#c8102e"/>
<circle cx="188.0" cy="229.1" r="0.95" fill="#c8102e"/>
<circle cx="189.5" cy="229.9" r="0.95" fill="#c8102e"/>
<circle cx="188.8" cy="230.6" r="0.95" fill="#c8102e"/>
<circle cx="193.2" cy="231.5" r="0.95" fill="#c8102e"/>
<circle cx="192.9" cy="232.8" r="0.95" fill="#c8102e"/>
<circle cx="189.1" cy="232.5" r="0.95" fill="#c8102e"/>
<circle cx="188.0" cy="234.3" r="0.95" fill="#c8102e"/>
<circle cx="189.9" cy="235.4" r="0.95" fill="#c8102e"/>
<circle cx="186.9" cy="238.2" r="0.95" fill="#c8102e"/>
<circle cx="193.2" cy="240.3" r="0.95" fill="#c8102e"/>
<circle cx="190.8" cy="243.6" r="0.95" fill="#c8102e"/>
<line x1="226.4" y1="185.616" x2="226.4" y2="251.66400000000002" stroke="#3a3a3a" stroke-width="1" />
<rect x="213.2" y="202.89600000000002" width="26.600000000000023" height="19.968000000000018" fill="#7d9fc2" />
<rect x="213.2" y="210.8048" width="26.600000000000023" height="2" fill="#333" />
<circle cx="225.8" cy="190.7" r="0.85" fill="#12508e"/>
<circle cx="227.1" cy="192.2" r="0.85" fill="#12508e"/>
<circle cx="224.0" cy="197.7" r="0.85" fill="#12508e"/>
<circle cx="224.2" cy="200.4" r="0.85" fill="#12508e"/>
<circle cx="229.3" cy="216.0" r="0.85" fill="#12508e"/>
<circle cx="224.2" cy="197.4" r="0.85" fill="#12508e"/>
<circle cx="225.6" cy="224.9" r="0.85" fill="#12508e"/>
<circle cx="225.4" cy="211.2" r="0.85" fill="#12508e"/>
<circle cx="224.6" cy="231.0" r="0.85" fill="#12508e"/>
<circle cx="229.7" cy="203.8" r="0.85" fill="#12508e"/>
<circle cx="226.7" cy="243.8" r="0.85" fill="#12508e"/>
<circle cx="222.6" cy="202.4" r="0.85" fill="#12508e"/>
<circle cx="223.8" cy="196.8" r="0.85" fill="#12508e"/>
<circle cx="226.8" cy="208.3" r="0.85" fill="#12508e"/>
<circle cx="224.8" cy="207.3" r="0.85" fill="#12508e"/>
<circle cx="227.1" cy="215.3" r="0.85" fill="#12508e"/>
<circle cx="227.7" cy="215.1" r="0.85" fill="#12508e"/>
<circle cx="225.9" cy="214.2" r="0.85" fill="#12508e"/>
<circle cx="227.0" cy="247.2" r="0.85" fill="#12508e"/>
<circle cx="224.2" cy="212.3" r="0.85" fill="#12508e"/>
<circle cx="228.7" cy="202.0" r="0.85" fill="#12508e"/>
<circle cx="223.7" cy="213.6" r="0.85" fill="#12508e"/>
<circle cx="223.1" cy="213.0" r="0.85" fill="#12508e"/>
<circle cx="225.9" cy="230.6" r="0.85" fill="#12508e"/>
<circle cx="226.0" cy="234.1" r="0.85" fill="#12508e"/>
<circle cx="222.5" cy="211.4" r="0.85" fill="#12508e"/>
<circle cx="222.9" cy="206.9" r="0.85" fill="#12508e"/>
<circle cx="228.7" cy="203.5" r="0.85" fill="#12508e"/>
<circle cx="222.7" cy="211.4" r="0.85" fill="#12508e"/>
<circle cx="225.4" cy="211.7" r="0.85" fill="#12508e"/>
<circle cx="224.6" cy="189.0" r="0.85" fill="#12508e"/>
<circle cx="229.7" cy="195.5" r="0.85" fill="#12508e"/>
<circle cx="229.0" cy="203.5" r="0.85" fill="#12508e"/>
<circle cx="230.2" cy="226.5" r="0.85" fill="#12508e"/>
<circle cx="230.2" cy="212.2" r="0.85" fill="#12508e"/>
<circle cx="224.5" cy="191.4" r="0.85" fill="#12508e"/>
<circle cx="229.7" cy="200.2" r="0.85" fill="#12508e"/>
<circle cx="225.5" cy="239.1" r="0.85" fill="#12508e"/>
<circle cx="223.6" cy="202.5" r="0.85" fill="#12508e"/>
<circle cx="225.1" cy="192.8" r="0.85" fill="#12508e"/>
<circle cx="223.8" cy="198.4" r="0.85" fill="#12508e"/>
<circle cx="229.9" cy="211.7" r="0.85" fill="#12508e"/>
<circle cx="224.5" cy="225.5" r="0.85" fill="#12508e"/>
<circle cx="224.9" cy="211.6" r="0.85" fill="#12508e"/>
<circle cx="224.7" cy="244.6" r="0.85" fill="#12508e"/>
<circle cx="229.7" cy="228.5" r="0.85" fill="#12508e"/>
<circle cx="229.7" cy="205.4" r="0.85" fill="#12508e"/>
<circle cx="228.6" cy="228.1" r="0.85" fill="#12508e"/>
<circle cx="226.6" cy="231.5" r="0.85" fill="#12508e"/>
<circle cx="225.2" cy="206.9" r="0.85" fill="#12508e"/>
<circle cx="226.7" cy="194.4" r="0.85" fill="#12508e"/>
<circle cx="229.6" cy="209.0" r="0.85" fill="#12508e"/>
<circle cx="229.9" cy="232.2" r="0.85" fill="#12508e"/>
<circle cx="225.5" cy="207.2" r="0.85" fill="#12508e"/>
<circle cx="224.6" cy="199.6" r="0.85" fill="#12508e"/>
<circle cx="226.7" cy="186.3" r="0.85" fill="#12508e"/>
<circle cx="228.6" cy="218.0" r="0.85" fill="#12508e"/>
<circle cx="223.7" cy="214.4" r="0.85" fill="#12508e"/>
<circle cx="222.6" cy="203.1" r="0.85" fill="#12508e"/>
<circle cx="224.6" cy="198.1" r="0.85" fill="#12508e"/>
<circle cx="230.5" cy="206.8" r="0.85" fill="#12508e"/>
<circle cx="227.8" cy="208.7" r="0.85" fill="#12508e"/>
<circle cx="222.2" cy="220.1" r="0.85" fill="#12508e"/>
<circle cx="224.6" cy="245.2" r="0.85" fill="#12508e"/>
<circle cx="225.8" cy="207.7" r="0.85" fill="#12508e"/>
<circle cx="229.7" cy="211.4" r="0.85" fill="#12508e"/>
<circle cx="224.4" cy="230.4" r="0.85" fill="#12508e"/>
<circle cx="222.4" cy="206.3" r="0.85" fill="#12508e"/>
<circle cx="225.8" cy="251.2" r="0.85" fill="#12508e"/>
<circle cx="225.4" cy="232.1" r="0.85" fill="#12508e"/>
<circle cx="227.1" cy="224.5" r="0.85" fill="#12508e"/>
<circle cx="223.9" cy="208.6" r="0.85" fill="#12508e"/>
<circle cx="226.2" cy="207.4" r="0.85" fill="#12508e"/>
<circle cx="229.6" cy="230.2" r="0.85" fill="#12508e"/>
<circle cx="223.5" cy="223.3" r="0.85" fill="#12508e"/>
<circle cx="227.4" cy="233.3" r="0.85" fill="#12508e"/>
<circle cx="228.2" cy="194.5" r="0.85" fill="#12508e"/>
<circle cx="224.4" cy="216.1" r="0.85" fill="#12508e"/>
<circle cx="227.1" cy="249.5" r="0.85" fill="#12508e"/>
<circle cx="225.1" cy="209.6" r="0.85" fill="#12508e"/>
<circle cx="225.9" cy="206.6" r="0.85" fill="#12508e"/>
<circle cx="227.6" cy="190.0" r="0.85" fill="#12508e"/>
<circle cx="229.8" cy="223.0" r="0.85" fill="#12508e"/>
<circle cx="226.6" cy="243.2" r="0.85" fill="#12508e"/>
<circle cx="224.2" cy="216.0" r="0.85" fill="#12508e"/>
<circle cx="228.0" cy="240.5" r="0.85" fill="#12508e"/>
<circle cx="226.6" cy="249.3" r="0.85" fill="#12508e"/>
<circle cx="224.5" cy="189.7" r="0.85" fill="#12508e"/>
<circle cx="227.3" cy="226.1" r="0.85" fill="#12508e"/>
<circle cx="227.6" cy="211.6" r="0.85" fill="#12508e"/>
<circle cx="224.0" cy="198.5" r="0.85" fill="#12508e"/>
<circle cx="224.7" cy="220.2" r="0.85" fill="#12508e"/>
<circle cx="228.6" cy="242.4" r="0.85" fill="#12508e"/>
<circle cx="228.1" cy="200.6" r="0.85" fill="#12508e"/>
<circle cx="227.9" cy="250.4" r="0.85" fill="#12508e"/>
<circle cx="226.1" cy="203.1" r="0.85" fill="#12508e"/>
<circle cx="226.0" cy="203.2" r="0.85" fill="#12508e"/>
<circle cx="223.2" cy="224.4" r="0.85" fill="#12508e"/>
<circle cx="222.6" cy="224.0" r="0.85" fill="#12508e"/>
<circle cx="228.5" cy="219.1" r="0.85" fill="#12508e"/>
<circle cx="229.3" cy="204.9" r="0.85" fill="#12508e"/>
<circle cx="224.4" cy="204.3" r="0.85" fill="#12508e"/>
<circle cx="225.9" cy="209.9" r="0.85" fill="#12508e"/>
<circle cx="226.6" cy="200.2" r="0.85" fill="#12508e"/>
<circle cx="227.6" cy="222.2" r="0.85" fill="#12508e"/>
<circle cx="225.0" cy="188.0" r="0.85" fill="#12508e"/>
<circle cx="223.4" cy="193.9" r="0.85" fill="#12508e"/>
<circle cx="224.2" cy="222.4" r="0.85" fill="#12508e"/>
<circle cx="230.1" cy="203.1" r="0.85" fill="#12508e"/>
<circle cx="224.9" cy="203.0" r="0.85" fill="#12508e"/>
<circle cx="225.3" cy="193.9" r="0.85" fill="#12508e"/>
<circle cx="229.8" cy="223.6" r="0.85" fill="#12508e"/>
<circle cx="228.0" cy="207.1" r="0.85" fill="#12508e"/>
<circle cx="230.4" cy="205.9" r="0.85" fill="#12508e"/>
<circle cx="229.3" cy="213.2" r="0.85" fill="#12508e"/>
<circle cx="229.4" cy="204.8" r="0.85" fill="#12508e"/>
<circle cx="228.3" cy="214.6" r="0.85" fill="#12508e"/>
<circle cx="224.8" cy="209.3" r="0.85" fill="#12508e"/>
<circle cx="227.4" cy="225.3" r="0.85" fill="#12508e"/>
<circle cx="229.0" cy="236.7" r="0.85" fill="#12508e"/>
<circle cx="222.9" cy="229.6" r="0.85" fill="#12508e"/>
<circle cx="229.4" cy="232.0" r="0.85" fill="#12508e"/>
<circle cx="223.4" cy="218.7" r="0.85" fill="#12508e"/>
<circle cx="224.1" cy="246.1" r="0.85" fill="#12508e"/>
<circle cx="227.5" cy="204.9" r="0.85" fill="#12508e"/>
<circle cx="228.4" cy="204.8" r="0.85" fill="#12508e"/>
<circle cx="226.9" cy="239.0" r="0.85" fill="#12508e"/>
<circle cx="229.1" cy="217.8" r="0.85" fill="#12508e"/>
<circle cx="229.2" cy="198.1" r="0.85" fill="#12508e"/>
<circle cx="228.6" cy="239.0" r="0.85" fill="#12508e"/>
<circle cx="228.9" cy="191.5" r="0.85" fill="#12508e"/>
<circle cx="224.3" cy="232.0" r="0.85" fill="#12508e"/>
<circle cx="223.1" cy="231.7" r="0.85" fill="#12508e"/>
<circle cx="228.5" cy="196.1" r="0.85" fill="#12508e"/>
<circle cx="229.1" cy="207.0" r="0.85" fill="#12508e"/>
<circle cx="224.6" cy="207.1" r="0.85" fill="#12508e"/>
<circle cx="223.6" cy="232.5" r="0.85" fill="#12508e"/>
<circle cx="224.0" cy="202.4" r="0.85" fill="#12508e"/>
<circle cx="225.8" cy="219.8" r="0.85" fill="#12508e"/>
<circle cx="225.2" cy="247.6" r="0.85" fill="#12508e"/>
<circle cx="228.2" cy="221.4" r="0.85" fill="#12508e"/>
<circle cx="224.9" cy="217.6" r="0.85" fill="#12508e"/>
<circle cx="226.4" cy="188.1" r="0.85" fill="#12508e"/>
<circle cx="227.2" cy="195.9" r="0.85" fill="#12508e"/>
<circle cx="226.0" cy="245.7" r="0.85" fill="#12508e"/>
<circle cx="228.7" cy="214.6" r="0.85" fill="#12508e"/>
<circle cx="228.1" cy="218.6" r="0.85" fill="#12508e"/>
<circle cx="224.0" cy="210.5" r="0.85" fill="#12508e"/>
<circle cx="223.7" cy="195.1" r="0.85" fill="#12508e"/>
<circle cx="224.0" cy="198.1" r="0.85" fill="#12508e"/>
<circle cx="225.1" cy="251.4" r="0.85" fill="#12508e"/>
<circle cx="230.3" cy="202.1" r="0.85" fill="#12508e"/>
<circle cx="226.4" cy="250.8" r="0.85" fill="#12508e"/>
<circle cx="228.9" cy="212.2" r="0.85" fill="#12508e"/>
<circle cx="226.4" cy="227.1" r="0.85" fill="#12508e"/>
<circle cx="229.2" cy="218.6" r="0.85" fill="#12508e"/>
<circle cx="230.1" cy="222.4" r="0.85" fill="#12508e"/>
<circle cx="224.0" cy="221.4" r="0.85" fill="#12508e"/>
<circle cx="226.4" cy="204.7" r="0.85" fill="#12508e"/>
<circle cx="227.4" cy="231.8" r="0.85" fill="#12508e"/>
<circle cx="228.3" cy="236.1" r="0.85" fill="#12508e"/>
<circle cx="228.8" cy="204.8" r="0.85" fill="#12508e"/>
<circle cx="225.2" cy="207.2" r="0.85" fill="#12508e"/>
<circle cx="225.5" cy="216.2" r="0.85" fill="#12508e"/>
<circle cx="223.9" cy="193.2" r="0.85" fill="#12508e"/>
<circle cx="223.5" cy="193.3" r="0.85" fill="#12508e"/>
<circle cx="224.5" cy="225.7" r="0.85" fill="#12508e"/>
<circle cx="226.4" cy="192.4" r="0.85" fill="#12508e"/>
<circle cx="229.6" cy="217.1" r="0.85" fill="#12508e"/>
<circle cx="226.1" cy="223.9" r="0.85" fill="#12508e"/>
<circle cx="228.5" cy="210.7" r="0.85" fill="#12508e"/>
<circle cx="227.6" cy="202.7" r="0.85" fill="#12508e"/>
<circle cx="224.9" cy="218.5" r="0.85" fill="#12508e"/>
<circle cx="229.0" cy="228.9" r="0.85" fill="#12508e"/>
<circle cx="228.4" cy="206.0" r="0.85" fill="#12508e"/>
<circle cx="225.9" cy="228.0" r="0.85" fill="#12508e"/>
<circle cx="227.0" cy="201.3" r="0.85" fill="#12508e"/>
<circle cx="226.1" cy="230.8" r="0.85" fill="#12508e"/>
<circle cx="224.8" cy="193.6" r="0.85" fill="#12508e"/>
<circle cx="224.8" cy="226.6" r="0.85" fill="#12508e"/>
<circle cx="229.3" cy="204.6" r="0.85" fill="#12508e"/>
<circle cx="223.8" cy="229.0" r="0.85" fill="#12508e"/>
<circle cx="224.9" cy="223.0" r="0.85" fill="#12508e"/>
<circle cx="223.6" cy="211.0" r="0.85" fill="#12508e"/>
<circle cx="223.8" cy="219.4" r="0.85" fill="#12508e"/>
<circle cx="227.5" cy="187.3" r="0.85" fill="#12508e"/>
<circle cx="229.6" cy="232.3" r="0.85" fill="#12508e"/>
<circle cx="225.6" cy="232.4" r="0.85" fill="#12508e"/>
<circle cx="227.7" cy="186.7" r="0.85" fill="#12508e"/>
<circle cx="225.9" cy="203.5" r="0.85" fill="#12508e"/>
<circle cx="227.5" cy="226.3" r="0.85" fill="#12508e"/>
<circle cx="224.3" cy="232.0" r="0.85" fill="#12508e"/>
<circle cx="222.5" cy="216.7" r="0.85" fill="#12508e"/>
<circle cx="228.8" cy="216.3" r="0.85" fill="#12508e"/>
<circle cx="226.4" cy="204.9" r="0.85" fill="#12508e"/>
<circle cx="226.1" cy="207.1" r="0.85" fill="#12508e"/>
<circle cx="227.2" cy="229.8" r="0.85" fill="#12508e"/>
<circle cx="228.4" cy="216.0" r="0.85" fill="#12508e"/>
<circle cx="226.0" cy="192.0" r="0.85" fill="#12508e"/>
<circle cx="228.5" cy="209.2" r="0.85" fill="#12508e"/>
<circle cx="224.1" cy="215.3" r="0.85" fill="#12508e"/>
<circle cx="229.6" cy="203.9" r="0.85" fill="#12508e"/>
<circle cx="228.0" cy="201.2" r="0.85" fill="#12508e"/>
<circle cx="227.6" cy="195.8" r="0.85" fill="#12508e"/>
<circle cx="226.0" cy="206.8" r="0.85" fill="#12508e"/>
<circle cx="227.5" cy="220.1" r="0.85" fill="#12508e"/>
<circle cx="225.8" cy="232.9" r="0.85" fill="#12508e"/>
<circle cx="228.1" cy="200.7" r="0.85" fill="#12508e"/>
<circle cx="224.3" cy="207.2" r="0.85" fill="#12508e"/>
<circle cx="226.0" cy="215.2" r="0.85" fill="#12508e"/>
<circle cx="225.6" cy="207.5" r="0.85" fill="#12508e"/>
<circle cx="230.0" cy="205.6" r="0.85" fill="#12508e"/>
<circle cx="227.6" cy="227.1" r="0.85" fill="#12508e"/>
<circle cx="225.5" cy="200.9" r="0.85" fill="#12508e"/>
<circle cx="230.4" cy="212.3" r="0.85" fill="#12508e"/>
<circle cx="226.6" cy="244.3" r="0.85" fill="#12508e"/>
<circle cx="228.5" cy="228.6" r="0.85" fill="#12508e"/>
<circle cx="226.5" cy="189.7" r="0.85" fill="#12508e"/>
<circle cx="226.9" cy="232.4" r="0.85" fill="#12508e"/>
<circle cx="228.2" cy="210.3" r="0.85" fill="#12508e"/>
<circle cx="227.6" cy="211.4" r="0.85" fill="#12508e"/>
<circle cx="226.6" cy="197.4" r="0.85" fill="#12508e"/>
<circle cx="230.2" cy="215.8" r="0.85" fill="#12508e"/>
<circle cx="227.9" cy="225.4" r="0.85" fill="#12508e"/>
<circle cx="228.6" cy="216.6" r="0.85" fill="#12508e"/>
<circle cx="229.9" cy="231.0" r="0.85" fill="#12508e"/>
<circle cx="222.7" cy="218.2" r="0.85" fill="#12508e"/>
<circle cx="225.6" cy="221.8" r="0.85" fill="#12508e"/>
<circle cx="226.0" cy="249.1" r="0.85" fill="#12508e"/>
<circle cx="228.1" cy="215.3" r="0.85" fill="#12508e"/>
<circle cx="224.4" cy="218.3" r="0.85" fill="#12508e"/>
<circle cx="228.4" cy="224.5" r="0.85" fill="#12508e"/>
<circle cx="226.5" cy="189.8" r="0.85" fill="#12508e"/>
<circle cx="228.8" cy="224.9" r="0.85" fill="#12508e"/>
<circle cx="224.0" cy="216.6" r="0.85" fill="#12508e"/>
<circle cx="228.4" cy="230.6" r="0.85" fill="#12508e"/>
<circle cx="227.4" cy="198.8" r="0.85" fill="#12508e"/>
<circle cx="226.9" cy="213.2" r="0.85" fill="#12508e"/>
<circle cx="230.2" cy="224.4" r="0.85" fill="#12508e"/>
<circle cx="227.6" cy="218.3" r="0.85" fill="#12508e"/>
<circle cx="228.7" cy="198.1" r="0.85" fill="#12508e"/>
<circle cx="224.7" cy="213.2" r="0.85" fill="#12508e"/>
<circle cx="223.3" cy="210.1" r="0.85" fill="#12508e"/>
<circle cx="225.4" cy="197.1" r="0.85" fill="#12508e"/>
<circle cx="224.8" cy="195.9" r="0.85" fill="#12508e"/>
<circle cx="224.3" cy="217.3" r="0.85" fill="#12508e"/>
<circle cx="223.8" cy="215.1" r="0.85" fill="#12508e"/>
<circle cx="227.3" cy="251.1" r="0.85" fill="#12508e"/>
<circle cx="224.3" cy="221.5" r="0.85" fill="#12508e"/>
<circle cx="226.2" cy="220.6" r="0.85" fill="#12508e"/>
<circle cx="227.6" cy="215.0" r="0.85" fill="#12508e"/>
<circle cx="225.2" cy="206.1" r="0.85" fill="#12508e"/>
<circle cx="228.3" cy="190.5" r="0.85" fill="#12508e"/>
<circle cx="228.3" cy="240.7" r="0.85" fill="#12508e"/>
<circle cx="228.0" cy="192.1" r="0.85" fill="#12508e"/>
<circle cx="228.8" cy="229.9" r="0.85" fill="#12508e"/>
<circle cx="222.3" cy="207.1" r="0.85" fill="#12508e"/>
<circle cx="228.4" cy="249.5" r="0.85" fill="#12508e"/>
<circle cx="224.3" cy="206.2" r="0.85" fill="#12508e"/>
<circle cx="223.9" cy="232.4" r="0.85" fill="#12508e"/>
<circle cx="228.7" cy="223.9" r="0.85" fill="#12508e"/>
<circle cx="223.5" cy="218.6" r="0.85" fill="#12508e"/>
<circle cx="228.1" cy="192.2" r="0.85" fill="#12508e"/>
<circle cx="229.4" cy="228.1" r="0.85" fill="#12508e"/>
<circle cx="228.8" cy="207.9" r="0.85" fill="#12508e"/>
<circle cx="228.2" cy="257.0" r="0.85" fill="#12508e"/>
<circle cx="229.6" cy="260.9" r="0.85" fill="#12508e"/>
<circle cx="223.4" cy="262.4" r="0.85" fill="#12508e"/>
<circle cx="224.4" cy="267.8" r="0.85" fill="#12508e"/>
<circle cx="227.9" cy="274.7" r="0.85" fill="#12508e"/>
<circle cx="226.9" cy="275.5" r="0.85" fill="#12508e"/>
<circle cx="225.6" cy="247.8" r="0.85" fill="#12508e"/>
<circle cx="221.9" cy="245.5" r="0.85" fill="#12508e"/>
<circle cx="230.0" cy="248.6" r="0.85" fill="#12508e"/>
<line x1="261.3" y1="206.35200000000003" x2="261.3" y2="221.48160000000001" stroke="#3a3a3a" stroke-width="1" />
<rect x="248" y="209.9616" width="27.100000000000023" height="7.91040000000001" fill="#e07f93" />
<rect x="248" y="214.03040000000001" width="27.100000000000023" height="2" fill="#333" />
<circle cx="258.0" cy="206.1" r="0.95" fill="#c8102e"/>
<circle cx="261.4" cy="207.3" r="0.95" fill="#c8102e"/>
<circle cx="264.0" cy="208.6" r="0.95" fill="#c8102e"/>
<circle cx="258.7" cy="209.6" r="0.95" fill="#c8102e"/>
<circle cx="262.3" cy="210.6" r="0.95" fill="#c8102e"/>
<circle cx="258.3" cy="211.4" r="0.95" fill="#c8102e"/>
<circle cx="260.3" cy="212.6" r="0.95" fill="#c8102e"/>
<circle cx="261.3" cy="213.9" r="0.95" fill="#c8102e"/>
<circle cx="259.3" cy="215.1" r="0.95" fill="#c8102e"/>
<circle cx="260.3" cy="215.9" r="0.95" fill="#c8102e"/>
<circle cx="264.3" cy="216.2" r="0.95" fill="#c8102e"/>
<circle cx="258.7" cy="218.2" r="0.95" fill="#c8102e"/>
<circle cx="263.6" cy="218.2" r="0.95" fill="#c8102e"/>
<circle cx="261.3" cy="221.2" r="0.95" fill="#c8102e"/>
<circle cx="263.6" cy="220.2" r="0.95" fill="#c8102e"/>
<circle cx="261.0" cy="229.1" r="0.95" fill="#c8102e"/>
<line x1="297" y1="185.232" x2="297" y2="223.7088" stroke="#3a3a3a" stroke-width="1" />
<rect x="284.3" y="200.20800000000003" width="27.099999999999966" height="10.291200000000003" fill="#7d9fc2" />
<rect x="284.3" y="204.20000000000002" width="27.099999999999966" height="2" fill="#333" />
<circle cx="300.3" cy="202.0" r="0.85" fill="#12508e"/>
<circle cx="299.6" cy="198.0" r="0.85" fill="#12508e"/>
<circle cx="298.4" cy="213.4" r="0.85" fill="#12508e"/>
<circle cx="299.0" cy="204.9" r="0.85" fill="#12508e"/>
<circle cx="300.2" cy="206.8" r="0.85" fill="#12508e"/>
<circle cx="295.0" cy="204.4" r="0.85" fill="#12508e"/>
<circle cx="294.1" cy="211.4" r="0.85" fill="#12508e"/>
<circle cx="293.3" cy="205.7" r="0.85" fill="#12508e"/>
<circle cx="294.0" cy="206.2" r="0.85" fill="#12508e"/>
<circle cx="297.0" cy="205.8" r="0.85" fill="#12508e"/>
<circle cx="300.0" cy="204.7" r="0.85" fill="#12508e"/>
<circle cx="298.5" cy="223.7" r="0.85" fill="#12508e"/>
<circle cx="297.5" cy="206.2" r="0.85" fill="#12508e"/>
<circle cx="299.9" cy="202.0" r="0.85" fill="#12508e"/>
<circle cx="296.3" cy="208.1" r="0.85" fill="#12508e"/>
<circle cx="294.9" cy="187.9" r="0.85" fill="#12508e"/>
<circle cx="298.1" cy="202.6" r="0.85" fill="#12508e"/>
<circle cx="297.5" cy="222.5" r="0.85" fill="#12508e"/>
<circle cx="300.6" cy="201.7" r="0.85" fill="#12508e"/>
<circle cx="301.0" cy="209.0" r="0.85" fill="#12508e"/>
<circle cx="296.9" cy="205.4" r="0.85" fill="#12508e"/>
<circle cx="294.2" cy="191.6" r="0.85" fill="#12508e"/>
<circle cx="298.1" cy="200.9" r="0.85" fill="#12508e"/>
<circle cx="300.0" cy="208.8" r="0.85" fill="#12508e"/>
<circle cx="296.8" cy="208.3" r="0.85" fill="#12508e"/>
<circle cx="299.3" cy="205.0" r="0.85" fill="#12508e"/>
<circle cx="296.5" cy="212.7" r="0.85" fill="#12508e"/>
<circle cx="297.5" cy="207.1" r="0.85" fill="#12508e"/>
<circle cx="295.5" cy="195.7" r="0.85" fill="#12508e"/>
<circle cx="296.3" cy="195.7" r="0.85" fill="#12508e"/>
<circle cx="295.1" cy="205.5" r="0.85" fill="#12508e"/>
<circle cx="301.0" cy="205.4" r="0.85" fill="#12508e"/>
<circle cx="299.5" cy="202.3" r="0.85" fill="#12508e"/>
<circle cx="295.5" cy="209.0" r="0.85" fill="#12508e"/>
<circle cx="297.7" cy="209.6" r="0.85" fill="#12508e"/>
<circle cx="299.4" cy="202.7" r="0.85" fill="#12508e"/>
<circle cx="298.1" cy="221.9" r="0.85" fill="#12508e"/>
<circle cx="297.3" cy="192.3" r="0.85" fill="#12508e"/>
<circle cx="296.0" cy="221.3" r="0.85" fill="#12508e"/>
<circle cx="295.7" cy="223.7" r="0.85" fill="#12508e"/>
<circle cx="297.6" cy="190.2" r="0.85" fill="#12508e"/>
<circle cx="299.4" cy="202.2" r="0.85" fill="#12508e"/>
<circle cx="297.6" cy="190.9" r="0.85" fill="#12508e"/>
<circle cx="298.1" cy="203.1" r="0.85" fill="#12508e"/>
<circle cx="297.8" cy="201.4" r="0.85" fill="#12508e"/>
<circle cx="294.6" cy="201.7" r="0.85" fill="#12508e"/>
<circle cx="296.6" cy="202.0" r="0.85" fill="#12508e"/>
<circle cx="293.7" cy="199.5" r="0.85" fill="#12508e"/>
<circle cx="293.6" cy="214.3" r="0.85" fill="#12508e"/>
<circle cx="300.3" cy="198.8" r="0.85" fill="#12508e"/>
<circle cx="295.9" cy="202.2" r="0.85" fill="#12508e"/>
<circle cx="299.1" cy="196.0" r="0.85" fill="#12508e"/>
<circle cx="295.0" cy="204.2" r="0.85" fill="#12508e"/>
<circle cx="296.3" cy="209.5" r="0.85" fill="#12508e"/>
<circle cx="296.4" cy="209.2" r="0.85" fill="#12508e"/>
<circle cx="300.6" cy="202.5" r="0.85" fill="#12508e"/>
<circle cx="297.3" cy="221.1" r="0.85" fill="#12508e"/>
<circle cx="295.1" cy="221.9" r="0.85" fill="#12508e"/>
<circle cx="297.6" cy="196.7" r="0.85" fill="#12508e"/>
<circle cx="296.7" cy="190.4" r="0.85" fill="#12508e"/>
<circle cx="296.5" cy="223.3" r="0.85" fill="#12508e"/>
<circle cx="300.7" cy="203.6" r="0.85" fill="#12508e"/>
<circle cx="296.9" cy="186.7" r="0.85" fill="#12508e"/>
<circle cx="293.7" cy="207.3" r="0.85" fill="#12508e"/>
<circle cx="294.6" cy="202.5" r="0.85" fill="#12508e"/>
<circle cx="293.7" cy="215.9" r="0.85" fill="#12508e"/>
<circle cx="297.8" cy="223.8" r="0.85" fill="#12508e"/>
<circle cx="299.9" cy="217.5" r="0.85" fill="#12508e"/>
<circle cx="299.1" cy="219.3" r="0.85" fill="#12508e"/>
<circle cx="293.9" cy="217.1" r="0.85" fill="#12508e"/>
<circle cx="294.8" cy="200.9" r="0.85" fill="#12508e"/>
<circle cx="294.4" cy="200.6" r="0.85" fill="#12508e"/>
<circle cx="298.4" cy="221.3" r="0.85" fill="#12508e"/>
<circle cx="300.0" cy="201.0" r="0.85" fill="#12508e"/>
<circle cx="293.5" cy="200.6" r="0.85" fill="#12508e"/>
<circle cx="298.8" cy="202.8" r="0.85" fill="#12508e"/>
<circle cx="300.6" cy="206.4" r="0.85" fill="#12508e"/>
<circle cx="300.9" cy="210.5" r="0.85" fill="#12508e"/>
<circle cx="292.9" cy="200.9" r="0.85" fill="#12508e"/>
<circle cx="297.7" cy="223.2" r="0.85" fill="#12508e"/>
<circle cx="293.9" cy="196.3" r="0.85" fill="#12508e"/>
<circle cx="298.9" cy="209.4" r="0.85" fill="#12508e"/>
<circle cx="299.5" cy="215.1" r="0.85" fill="#12508e"/>
<circle cx="293.3" cy="205.9" r="0.85" fill="#12508e"/>
<circle cx="297.6" cy="208.2" r="0.85" fill="#12508e"/>
<circle cx="298.5" cy="206.8" r="0.85" fill="#12508e"/>
<circle cx="299.0" cy="216.2" r="0.85" fill="#12508e"/>
<circle cx="298.2" cy="208.3" r="0.85" fill="#12508e"/>
<circle cx="296.3" cy="202.8" r="0.85" fill="#12508e"/>
<circle cx="299.4" cy="207.9" r="0.85" fill="#12508e"/>
<circle cx="298.5" cy="188.8" r="0.85" fill="#12508e"/>
<circle cx="295.3" cy="204.1" r="0.85" fill="#12508e"/>
<circle cx="299.5" cy="220.8" r="0.85" fill="#12508e"/>
<circle cx="299.8" cy="201.2" r="0.85" fill="#12508e"/>
<circle cx="297.9" cy="208.9" r="0.85" fill="#12508e"/>
<circle cx="298.5" cy="186.9" r="0.85" fill="#12508e"/>
<circle cx="295.4" cy="203.4" r="0.85" fill="#12508e"/>
<circle cx="300.3" cy="207.0" r="0.85" fill="#12508e"/>
<circle cx="298.6" cy="208.0" r="0.85" fill="#12508e"/>
<circle cx="300.3" cy="203.4" r="0.85" fill="#12508e"/>
<circle cx="295.4" cy="196.9" r="0.85" fill="#12508e"/>
<circle cx="296.0" cy="223.9" r="0.85" fill="#12508e"/>
<circle cx="297.7" cy="207.1" r="0.85" fill="#12508e"/>
<circle cx="299.8" cy="196.4" r="0.85" fill="#12508e"/>
<circle cx="298.6" cy="221.7" r="0.85" fill="#12508e"/>
<circle cx="299.7" cy="196.6" r="0.85" fill="#12508e"/>
<circle cx="295.1" cy="204.0" r="0.85" fill="#12508e"/>
<circle cx="299.1" cy="194.3" r="0.85" fill="#12508e"/>
<circle cx="300.5" cy="201.6" r="0.85" fill="#12508e"/>
<circle cx="293.5" cy="208.6" r="0.85" fill="#12508e"/>
<circle cx="299.5" cy="204.4" r="0.85" fill="#12508e"/>
<circle cx="298.9" cy="213.2" r="0.85" fill="#12508e"/>
<circle cx="295.6" cy="189.6" r="0.85" fill="#12508e"/>
<circle cx="298.5" cy="203.3" r="0.85" fill="#12508e"/>
<circle cx="294.5" cy="206.3" r="0.85" fill="#12508e"/>
<circle cx="299.1" cy="210.5" r="0.85" fill="#12508e"/>
<circle cx="296.7" cy="197.8" r="0.85" fill="#12508e"/>
<circle cx="298.7" cy="219.3" r="0.85" fill="#12508e"/>
<circle cx="294.9" cy="198.9" r="0.85" fill="#12508e"/>
<circle cx="300.3" cy="203.9" r="0.85" fill="#12508e"/>
<circle cx="297.1" cy="192.3" r="0.85" fill="#12508e"/>
<circle cx="297.8" cy="206.1" r="0.85" fill="#12508e"/>
<circle cx="294.7" cy="213.8" r="0.85" fill="#12508e"/>
<circle cx="298.5" cy="214.3" r="0.85" fill="#12508e"/>
<circle cx="297.5" cy="208.3" r="0.85" fill="#12508e"/>
<circle cx="297.1" cy="207.5" r="0.85" fill="#12508e"/>
<circle cx="293.9" cy="216.0" r="0.85" fill="#12508e"/>
<circle cx="296.5" cy="185.8" r="0.85" fill="#12508e"/>
<circle cx="297.8" cy="218.3" r="0.85" fill="#12508e"/>
<circle cx="294.3" cy="198.0" r="0.85" fill="#12508e"/>
<circle cx="295.7" cy="203.5" r="0.85" fill="#12508e"/>
<circle cx="293.0" cy="205.2" r="0.85" fill="#12508e"/>
<circle cx="299.3" cy="222.2" r="0.85" fill="#12508e"/>
<circle cx="296.9" cy="193.4" r="0.85" fill="#12508e"/>
<circle cx="295.0" cy="204.1" r="0.85" fill="#12508e"/>
<circle cx="296.4" cy="198.5" r="0.85" fill="#12508e"/>
<circle cx="298.4" cy="188.7" r="0.85" fill="#12508e"/>
<circle cx="300.4" cy="196.2" r="0.85" fill="#12508e"/>
<circle cx="293.1" cy="210.5" r="0.85" fill="#12508e"/>
<circle cx="294.6" cy="213.2" r="0.85" fill="#12508e"/>
<circle cx="294.5" cy="219.5" r="0.85" fill="#12508e"/>
<circle cx="300.1" cy="204.4" r="0.85" fill="#12508e"/>
<circle cx="300.8" cy="206.4" r="0.85" fill="#12508e"/>
<circle cx="294.5" cy="190.9" r="0.85" fill="#12508e"/>
<circle cx="296.1" cy="203.5" r="0.85" fill="#12508e"/>
<circle cx="299.9" cy="217.6" r="0.85" fill="#12508e"/>
<circle cx="297.5" cy="210.4" r="0.85" fill="#12508e"/>
<circle cx="300.8" cy="202.6" r="0.85" fill="#12508e"/>
<circle cx="296.1" cy="201.9" r="0.85" fill="#12508e"/>
<circle cx="294.1" cy="206.6" r="0.85" fill="#12508e"/>
<circle cx="299.3" cy="187.6" r="0.85" fill="#12508e"/>
<circle cx="293.3" cy="212.1" r="0.85" fill="#12508e"/>
<circle cx="295.8" cy="210.5" r="0.85" fill="#12508e"/>
<circle cx="299.4" cy="191.3" r="0.85" fill="#12508e"/>
<circle cx="293.9" cy="195.1" r="0.85" fill="#12508e"/>
<circle cx="298.6" cy="198.1" r="0.85" fill="#12508e"/>
<circle cx="301.1" cy="202.4" r="0.85" fill="#12508e"/>
<circle cx="295.2" cy="221.0" r="0.85" fill="#12508e"/>
<circle cx="300.7" cy="199.9" r="0.85" fill="#12508e"/>
<circle cx="295.3" cy="201.8" r="0.85" fill="#12508e"/>
<circle cx="299.2" cy="203.6" r="0.85" fill="#12508e"/>
<circle cx="295.9" cy="218.3" r="0.85" fill="#12508e"/>
<circle cx="293.8" cy="210.4" r="0.85" fill="#12508e"/>
<circle cx="294.2" cy="206.0" r="0.85" fill="#12508e"/>
<circle cx="294.1" cy="211.2" r="0.85" fill="#12508e"/>
<circle cx="292.9" cy="201.8" r="0.85" fill="#12508e"/>
<circle cx="294.4" cy="200.9" r="0.85" fill="#12508e"/>
<circle cx="299.1" cy="222.1" r="0.85" fill="#12508e"/>
<circle cx="300.4" cy="212.2" r="0.85" fill="#12508e"/>
<circle cx="299.5" cy="193.4" r="0.85" fill="#12508e"/>
<circle cx="296.7" cy="216.5" r="0.85" fill="#12508e"/>
<circle cx="299.5" cy="218.8" r="0.85" fill="#12508e"/>
<circle cx="297.9" cy="194.8" r="0.85" fill="#12508e"/>
<circle cx="295.7" cy="206.5" r="0.85" fill="#12508e"/>
<circle cx="296.8" cy="195.9" r="0.85" fill="#12508e"/>
<circle cx="294.0" cy="202.8" r="0.85" fill="#12508e"/>
<circle cx="293.5" cy="212.1" r="0.85" fill="#12508e"/>
<circle cx="297.4" cy="201.0" r="0.85" fill="#12508e"/>
<circle cx="299.5" cy="216.2" r="0.85" fill="#12508e"/>
<circle cx="296.3" cy="210.2" r="0.85" fill="#12508e"/>
<circle cx="295.4" cy="215.6" r="0.85" fill="#12508e"/>
<circle cx="295.9" cy="195.0" r="0.85" fill="#12508e"/>
<circle cx="296.9" cy="215.0" r="0.85" fill="#12508e"/>
<circle cx="300.4" cy="209.2" r="0.85" fill="#12508e"/>
<circle cx="299.9" cy="217.9" r="0.85" fill="#12508e"/>
<circle cx="299.0" cy="221.0" r="0.85" fill="#12508e"/>
<circle cx="294.6" cy="202.0" r="0.85" fill="#12508e"/>
<circle cx="295.2" cy="206.0" r="0.85" fill="#12508e"/>
<circle cx="294.5" cy="210.4" r="0.85" fill="#12508e"/>
<circle cx="301.1" cy="208.3" r="0.85" fill="#12508e"/>
<circle cx="298.8" cy="185.7" r="0.85" fill="#12508e"/>
<circle cx="295.8" cy="218.8" r="0.85" fill="#12508e"/>
<circle cx="294.4" cy="191.7" r="0.85" fill="#12508e"/>
<circle cx="295.3" cy="200.7" r="0.85" fill="#12508e"/>
<circle cx="294.8" cy="186.9" r="0.85" fill="#12508e"/>
<circle cx="295.8" cy="196.9" r="0.85" fill="#12508e"/>
<circle cx="293.7" cy="216.5" r="0.85" fill="#12508e"/>
<circle cx="297.2" cy="195.4" r="0.85" fill="#12508e"/>
<circle cx="296.5" cy="214.0" r="0.85" fill="#12508e"/>
<circle cx="295.4" cy="190.8" r="0.85" fill="#12508e"/>
<circle cx="294.0" cy="204.0" r="0.85" fill="#12508e"/>
<circle cx="299.0" cy="214.3" r="0.85" fill="#12508e"/>
<circle cx="294.5" cy="201.0" r="0.85" fill="#12508e"/>
<circle cx="294.7" cy="219.8" r="0.85" fill="#12508e"/>
<circle cx="297.0" cy="203.2" r="0.85" fill="#12508e"/>
<circle cx="294.5" cy="210.1" r="0.85" fill="#12508e"/>
<circle cx="298.7" cy="203.2" r="0.85" fill="#12508e"/>
<circle cx="297.6" cy="196.6" r="0.85" fill="#12508e"/>
<circle cx="293.7" cy="213.1" r="0.85" fill="#12508e"/>
<circle cx="296.2" cy="200.6" r="0.85" fill="#12508e"/>
<circle cx="293.3" cy="200.8" r="0.85" fill="#12508e"/>
<circle cx="295.8" cy="196.7" r="0.85" fill="#12508e"/>
<circle cx="299.5" cy="194.8" r="0.85" fill="#12508e"/>
<circle cx="292.9" cy="205.7" r="0.85" fill="#12508e"/>
<circle cx="296.9" cy="190.9" r="0.85" fill="#12508e"/>
<circle cx="295.5" cy="193.1" r="0.85" fill="#12508e"/>
<circle cx="299.4" cy="214.0" r="0.85" fill="#12508e"/>
<circle cx="294.2" cy="208.2" r="0.85" fill="#12508e"/>
<circle cx="297.8" cy="208.2" r="0.85" fill="#12508e"/>
<circle cx="297.1" cy="223.8" r="0.85" fill="#12508e"/>
<circle cx="297.1" cy="206.7" r="0.85" fill="#12508e"/>
<circle cx="298.3" cy="217.5" r="0.85" fill="#12508e"/>
<circle cx="299.7" cy="196.3" r="0.85" fill="#12508e"/>
<circle cx="298.8" cy="209.2" r="0.85" fill="#12508e"/>
<circle cx="299.1" cy="208.0" r="0.85" fill="#12508e"/>
<circle cx="298.9" cy="220.7" r="0.85" fill="#12508e"/>
<circle cx="297.0" cy="188.3" r="0.85" fill="#12508e"/>
<circle cx="297.3" cy="205.3" r="0.85" fill="#12508e"/>
<circle cx="293.0" cy="204.8" r="0.85" fill="#12508e"/>
<circle cx="295.7" cy="187.5" r="0.85" fill="#12508e"/>
<circle cx="294.1" cy="214.2" r="0.85" fill="#12508e"/>
<circle cx="299.7" cy="210.6" r="0.85" fill="#12508e"/>
<circle cx="295.1" cy="222.4" r="0.85" fill="#12508e"/>
<circle cx="294.4" cy="201.3" r="0.85" fill="#12508e"/>
<circle cx="297.4" cy="223.1" r="0.85" fill="#12508e"/>
<circle cx="298.0" cy="230.9" r="0.85" fill="#12508e"/>
<circle cx="296.0" cy="230.2" r="0.85" fill="#12508e"/>
<circle cx="300.0" cy="235.5" r="0.85" fill="#12508e"/>
<circle cx="294.0" cy="237.8" r="0.85" fill="#12508e"/>
<circle cx="298.5" cy="241.7" r="0.85" fill="#12508e"/>
<circle cx="297.0" cy="226.3" r="0.85" fill="#12508e"/>
<circle cx="299.5" cy="183.3" r="0.85" fill="#12508e"/>
<circle cx="295.0" cy="184.8" r="0.85" fill="#12508e"/>
<line x1="253.65" y1="292.2" x2="253.65" y2="304.2" stroke="#333" stroke-width="0.9" />
<rect x="248.3" y="294.7" width="10.7" height="7" fill="#e07f93" />
<rect x="248.3" y="297.7" width="10.7" height="1.2" fill="#2b2b2b" />
<circle cx="253.7" cy="298.3" r="1" fill="#c8102e"/>
<line x1="253.65" y1="306.9" x2="253.65" y2="318.9" stroke="#333" stroke-width="0.9" />
<rect x="248.3" y="309.4" width="10.7" height="7" fill="#7d9fc2" />
<rect x="248.3" y="312.4" width="10.7" height="1.2" fill="#2b2b2b" />
<circle cx="253.7" cy="313.0" r="1" fill="#12508e"/>
<text x="261" y="300.8" font-size="7.9" fill="#161616" stroke="#161616" stroke-width="0.12" text-anchor="start" font-weight="normal" textLength="54.8" lengthAdjust="spacingAndGlyphs" >CDX2/UBTF ALL</text>
<text x="261" y="315.5" font-size="7.9" fill="#161616" stroke="#161616" stroke-width="0.12" text-anchor="start" font-weight="normal" textLength="40.4" lengthAdjust="spacingAndGlyphs" >Other B-ALL</text>
<text x="325.3" y="151" font-size="10.5" fill="#000" stroke="#000" stroke-width="0.35" text-anchor="start" font-weight="bold" >C</text>
<line x1="358.6" y1="158.5" x2="358.6" y2="320.9" stroke="#111" stroke-width="1.2" />
<line x1="358" y1="320.4" x2="512.5" y2="320.4" stroke="#111" stroke-width="1.15" />
<line x1="355" y1="309.7" x2="358.5" y2="309.7" stroke="#333" stroke-width="1" />
<text x="353.9" y="312.5" font-size="8.1" fill="#161616" stroke="#161616" stroke-width="0.12" text-anchor="end" font-weight="normal" >5.0</text>
<line x1="355" y1="280.2" x2="358.5" y2="280.2" stroke="#333" stroke-width="1" />
<text x="353.9" y="283.0" font-size="8.1" fill="#161616" stroke="#161616" stroke-width="0.12" text-anchor="end" font-weight="normal" >7.5</text>
<line x1="355" y1="250.7" x2="358.5" y2="250.7" stroke="#333" stroke-width="1" />
<text x="353.9" y="253.5" font-size="8.1" fill="#161616" stroke="#161616" stroke-width="0.12" text-anchor="end" font-weight="normal" >10.0</text>
<line x1="355" y1="221.2" x2="358.5" y2="221.2" stroke="#333" stroke-width="1" />
<text x="353.9" y="224.0" font-size="8.1" fill="#161616" stroke="#161616" stroke-width="0.12" text-anchor="end" font-weight="normal" >12.5</text>
<line x1="355" y1="191.7" x2="358.5" y2="191.7" stroke="#333" stroke-width="1" />
<text x="353.9" y="194.5" font-size="8.1" fill="#161616" stroke="#161616" stroke-width="0.12" text-anchor="end" font-weight="normal" >15.0</text>
<line x1="355" y1="162.2" x2="358.5" y2="162.2" stroke="#333" stroke-width="1" />
<text x="353.9" y="165.0" font-size="8.1" fill="#161616" stroke="#161616" stroke-width="0.12" text-anchor="end" font-weight="normal" >17.5</text>
<line x1="365.2" y1="320.4" x2="365.2" y2="323.7" stroke="#222" stroke-width="1" />
<text x="365.2" y="333.6" font-size="8.1" fill="#161616" stroke="#161616" stroke-width="0.12" text-anchor="middle" font-weight="normal" >0</text>
<line x1="410.08" y1="320.4" x2="410.08" y2="323.7" stroke="#222" stroke-width="1" />
<text x="410.08" y="333.6" font-size="8.1" fill="#161616" stroke="#161616" stroke-width="0.12" text-anchor="middle" font-weight="normal" >4</text>
<line x1="454.96" y1="320.4" x2="454.96" y2="323.7" stroke="#222" stroke-width="1" />
<text x="454.96" y="333.6" font-size="8.1" fill="#161616" stroke="#161616" stroke-width="0.12" text-anchor="middle" font-weight="normal" >8</text>
<line x1="499.84000000000003" y1="320.4" x2="499.84000000000003" y2="323.7" stroke="#222" stroke-width="1" />
<text x="499.84000000000003" y="333.6" font-size="8.1" fill="#161616" stroke="#161616" stroke-width="0.12" text-anchor="middle" font-weight="normal" >12</text>
<text x="435" y="345.5" font-size="9.8" fill="#161616" stroke="#161616" stroke-width="0.12" text-anchor="middle" font-weight="normal" textLength="17.6" lengthAdjust="spacingAndGlyphs" >CDX2</text>
<text x="0" y="0" font-size="8.8" fill="#222" text-anchor="middle" textLength="15" lengthAdjust="spacingAndGlyphs" transform="translate(333 239.7) rotate(-90)">FLT3</text>
<text x="370.4" y="161.8" font-size="7.1" fill="#161616" stroke="#161616" stroke-width="0.12" text-anchor="start" font-weight="normal" textLength="71.5" lengthAdjust="spacingAndGlyphs" ><tspan font-style="italic">R</tspan> = 0.58, <tspan font-style="italic">&#961;</tspan> &lt; 2.2E&#8722;16</text>
<circle cx="365.3" cy="209.7" r="1.05" fill="#12508e"/>
<circle cx="365.3" cy="218.0" r="1.05" fill="#12508e"/>
<circle cx="365.3" cy="219.6" r="1.05" fill="#12508e"/>
<circle cx="365.3" cy="221.2" r="1.05" fill="#12508e"/>
<circle cx="365.3" cy="222.9" r="1.05" fill="#12508e"/>
<circle cx="365.3" cy="224.5" r="1.05" fill="#12508e"/>
<circle cx="365.3" cy="226.2" r="1.05" fill="#12508e"/>
<circle cx="365.3" cy="227.5" r="1.05" fill="#12508e"/>
<circle cx="365.3" cy="228.7" r="1.05" fill="#12508e"/>
<circle cx="365.3" cy="230.3" r="1.05" fill="#12508e"/>
<circle cx="365.3" cy="232.0" r="1.05" fill="#12508e"/>
<circle cx="365.3" cy="237.0" r="1.05" fill="#12508e"/>
<circle cx="365.3" cy="239.4" r="1.05" fill="#12508e"/>
<circle cx="365.3" cy="242.7" r="1.05" fill="#12508e"/>
<circle cx="365.3" cy="249.0" r="1.05" fill="#12508e"/>
<circle cx="365.3" cy="250.0" r="1.05" fill="#12508e"/>
<circle cx="365.3" cy="251.6" r="1.05" fill="#12508e"/>
<circle cx="365.3" cy="253.3" r="1.05" fill="#12508e"/>
<circle cx="365.3" cy="254.9" r="1.05" fill="#12508e"/>
<circle cx="365.3" cy="258.2" r="1.05" fill="#12508e"/>
<circle cx="365.3" cy="268.1" r="1.05" fill="#12508e"/>
<circle cx="365.3" cy="269.8" r="1.05" fill="#12508e"/>
<circle cx="365.3" cy="277.2" r="1.05" fill="#12508e"/>
<circle cx="365.3" cy="285.5" r="1.05" fill="#12508e"/>
<circle cx="365.3" cy="291.3" r="1.05" fill="#12508e"/>
<circle cx="365.3" cy="292.6" r="1.05" fill="#12508e"/>
<circle cx="365.3" cy="303.7" r="1.05" fill="#12508e"/>
<circle cx="365.3" cy="305.3" r="1.05" fill="#12508e"/>
<circle cx="365.3" cy="313.1" r="1.05" fill="#12508e"/>
<circle cx="402.6" cy="175.8" r="1.05" fill="#12508e"/>
<circle cx="421.5" cy="180.7" r="1.05" fill="#12508e"/>
<circle cx="432.4" cy="181.9" r="1.05" fill="#12508e"/>
<circle cx="396.7" cy="189.5" r="1.05" fill="#12508e"/>
<circle cx="422.5" cy="188.5" r="1.05" fill="#12508e"/>
<circle cx="436.0" cy="189.5" r="1.05" fill="#12508e"/>
<circle cx="412.9" cy="189.8" r="1.05" fill="#12508e"/>
<circle cx="409.6" cy="192.8" r="1.05" fill="#12508e"/>
<circle cx="389.8" cy="193.6" r="1.05" fill="#12508e"/>
<circle cx="401.3" cy="194.8" r="1.05" fill="#12508e"/>
<circle cx="412.6" cy="194.0" r="1.05" fill="#12508e"/>
<circle cx="422.8" cy="194.8" r="1.05" fill="#12508e"/>
<circle cx="426.6" cy="195.6" r="1.05" fill="#12508e"/>
<circle cx="437.7" cy="193.1" r="1.05" fill="#12508e"/>
<circle cx="436.5" cy="194.8" r="1.05" fill="#12508e"/>
<circle cx="394.7" cy="195.6" r="1.05" fill="#12508e"/>
<circle cx="410.4" cy="195.6" r="1.05" fill="#12508e"/>
<circle cx="413.7" cy="195.6" r="1.05" fill="#12508e"/>
<circle cx="383.1" cy="197.8" r="1.05" fill="#12508e"/>
<circle cx="393.1" cy="197.3" r="1.05" fill="#12508e"/>
<circle cx="403.0" cy="197.3" r="1.05" fill="#12508e"/>
<circle cx="407.9" cy="198.1" r="1.05" fill="#12508e"/>
<circle cx="411.6" cy="197.8" r="1.05" fill="#12508e"/>
<circle cx="421.2" cy="198.4" r="1.05" fill="#12508e"/>
<circle cx="429.4" cy="197.3" r="1.05" fill="#12508e"/>
<circle cx="433.6" cy="198.9" r="1.05" fill="#12508e"/>
<circle cx="379.5" cy="199.4" r="1.05" fill="#12508e"/>
<circle cx="385.6" cy="200.2" r="1.05" fill="#12508e"/>
<circle cx="398.8" cy="199.8" r="1.05" fill="#12508e"/>
<circle cx="405.5" cy="199.8" r="1.05" fill="#12508e"/>
<circle cx="409.6" cy="200.6" r="1.05" fill="#12508e"/>
<circle cx="417.0" cy="199.4" r="1.05" fill="#12508e"/>
<circle cx="418.7" cy="201.4" r="1.05" fill="#12508e"/>
<circle cx="424.5" cy="200.6" r="1.05" fill="#12508e"/>
<circle cx="427.8" cy="201.4" r="1.05" fill="#12508e"/>
<circle cx="436.5" cy="199.8" r="1.05" fill="#12508e"/>
<circle cx="378.2" cy="201.7" r="1.05" fill="#12508e"/>
<circle cx="393.1" cy="202.2" r="1.05" fill="#12508e"/>
<circle cx="396.4" cy="203.1" r="1.05" fill="#12508e"/>
<circle cx="381.5" cy="204.4" r="1.05" fill="#12508e"/>
<circle cx="388.9" cy="204.7" r="1.05" fill="#12508e"/>
<circle cx="399.7" cy="205.5" r="1.05" fill="#12508e"/>
<circle cx="407.9" cy="204.7" r="1.05" fill="#12508e"/>
<circle cx="412.9" cy="204.7" r="1.05" fill="#12508e"/>
<circle cx="418.7" cy="205.5" r="1.05" fill="#12508e"/>
<circle cx="432.7" cy="203.1" r="1.05" fill="#12508e"/>
<circle cx="380.7" cy="206.4" r="1.05" fill="#12508e"/>
<circle cx="390.6" cy="206.7" r="1.05" fill="#12508e"/>
<circle cx="397.2" cy="206.7" r="1.05" fill="#12508e"/>
<circle cx="403.8" cy="206.4" r="1.05" fill="#12508e"/>
<circle cx="409.6" cy="207.7" r="1.05" fill="#12508e"/>
<circle cx="415.9" cy="206.7" r="1.05" fill="#12508e"/>
<circle cx="426.1" cy="205.5" r="1.05" fill="#12508e"/>
<circle cx="376.5" cy="209.7" r="1.05" fill="#12508e"/>
<circle cx="384.8" cy="208.8" r="1.05" fill="#12508e"/>
<circle cx="388.1" cy="210.5" r="1.05" fill="#12508e"/>
<circle cx="393.1" cy="209.7" r="1.05" fill="#12508e"/>
<circle cx="398.8" cy="209.7" r="1.05" fill="#12508e"/>
<circle cx="403.0" cy="210.5" r="1.05" fill="#12508e"/>
<circle cx="407.1" cy="209.7" r="1.05" fill="#12508e"/>
<circle cx="411.2" cy="208.8" r="1.05" fill="#12508e"/>
<circle cx="389.8" cy="212.1" r="1.05" fill="#12508e"/>
<circle cx="400.5" cy="212.1" r="1.05" fill="#12508e"/>
<circle cx="414.5" cy="211.3" r="1.05" fill="#12508e"/>
<circle cx="432.7" cy="208.8" r="1.05" fill="#12508e"/>
<circle cx="377.4" cy="213.3" r="1.05" fill="#12508e"/>
<circle cx="388.9" cy="213.8" r="1.05" fill="#12508e"/>
<circle cx="395.5" cy="214.6" r="1.05" fill="#12508e"/>
<circle cx="403.0" cy="213.8" r="1.05" fill="#12508e"/>
<circle cx="407.9" cy="214.3" r="1.05" fill="#12508e"/>
<circle cx="419.5" cy="213.8" r="1.05" fill="#12508e"/>
<circle cx="427.8" cy="214.6" r="1.05" fill="#12508e"/>
<circle cx="433.6" cy="214.6" r="1.05" fill="#12508e"/>
<circle cx="384.8" cy="216.3" r="1.05" fill="#12508e"/>
<circle cx="392.2" cy="216.3" r="1.05" fill="#12508e"/>
<circle cx="399.7" cy="216.6" r="1.05" fill="#12508e"/>
<circle cx="404.6" cy="216.3" r="1.05" fill="#12508e"/>
<circle cx="411.2" cy="217.1" r="1.05" fill="#12508e"/>
<circle cx="417.0" cy="217.1" r="1.05" fill="#12508e"/>
<circle cx="422.0" cy="217.9" r="1.05" fill="#12508e"/>
<circle cx="377.4" cy="218.8" r="1.05" fill="#12508e"/>
<circle cx="380.7" cy="219.6" r="1.05" fill="#12508e"/>
<circle cx="387.3" cy="219.3" r="1.05" fill="#12508e"/>
<circle cx="393.1" cy="219.6" r="1.05" fill="#12508e"/>
<circle cx="397.2" cy="220.4" r="1.05" fill="#12508e"/>
<circle cx="402.1" cy="219.6" r="1.05" fill="#12508e"/>
<circle cx="407.9" cy="221.2" r="1.05" fill="#12508e"/>
<circle cx="414.5" cy="220.4" r="1.05" fill="#12508e"/>
<circle cx="436.9" cy="219.6" r="1.05" fill="#12508e"/>
<circle cx="422.0" cy="221.2" r="1.05" fill="#12508e"/>
<circle cx="378.2" cy="222.9" r="1.05" fill="#12508e"/>
<circle cx="384.8" cy="223.7" r="1.05" fill="#12508e"/>
<circle cx="389.8" cy="222.6" r="1.05" fill="#12508e"/>
<circle cx="396.4" cy="223.7" r="1.05" fill="#12508e"/>
<circle cx="402.1" cy="222.9" r="1.05" fill="#12508e"/>
<circle cx="408.8" cy="223.7" r="1.05" fill="#12508e"/>
<circle cx="376.5" cy="225.4" r="1.05" fill="#12508e"/>
<circle cx="382.3" cy="226.2" r="1.05" fill="#12508e"/>
<circle cx="386.4" cy="227.0" r="1.05" fill="#12508e"/>
<circle cx="393.1" cy="226.2" r="1.05" fill="#12508e"/>
<circle cx="400.5" cy="225.9" r="1.05" fill="#12508e"/>
<circle cx="404.6" cy="227.0" r="1.05" fill="#12508e"/>
<circle cx="409.6" cy="226.5" r="1.05" fill="#12508e"/>
<circle cx="414.5" cy="226.2" r="1.05" fill="#12508e"/>
<circle cx="430.2" cy="227.0" r="1.05" fill="#12508e"/>
<circle cx="377.4" cy="228.7" r="1.05" fill="#12508e"/>
<circle cx="384.8" cy="229.5" r="1.05" fill="#12508e"/>
<circle cx="388.9" cy="230.3" r="1.05" fill="#12508e"/>
<circle cx="399.7" cy="229.5" r="1.05" fill="#12508e"/>
<circle cx="403.8" cy="230.8" r="1.05" fill="#12508e"/>
<circle cx="410.4" cy="229.5" r="1.05" fill="#12508e"/>
<circle cx="412.9" cy="231.5" r="1.05" fill="#12508e"/>
<circle cx="379.8" cy="232.0" r="1.05" fill="#12508e"/>
<circle cx="386.4" cy="232.5" r="1.05" fill="#12508e"/>
<circle cx="391.4" cy="231.5" r="1.05" fill="#12508e"/>
<circle cx="396.4" cy="232.8" r="1.05" fill="#12508e"/>
<circle cx="401.3" cy="233.6" r="1.05" fill="#12508e"/>
<circle cx="407.9" cy="233.6" r="1.05" fill="#12508e"/>
<circle cx="378.2" cy="235.3" r="1.05" fill="#12508e"/>
<circle cx="383.1" cy="236.1" r="1.05" fill="#12508e"/>
<circle cx="387.3" cy="235.3" r="1.05" fill="#12508e"/>
<circle cx="389.8" cy="236.9" r="1.05" fill="#12508e"/>
<circle cx="393.9" cy="236.1" r="1.05" fill="#12508e"/>
<circle cx="402.1" cy="236.9" r="1.05" fill="#12508e"/>
<circle cx="418.7" cy="238.6" r="1.05" fill="#12508e"/>
<circle cx="381.5" cy="238.6" r="1.05" fill="#12508e"/>
<circle cx="386.4" cy="239.4" r="1.05" fill="#12508e"/>
<circle cx="390.6" cy="239.4" r="1.05" fill="#12508e"/>
<circle cx="388.9" cy="241.1" r="1.05" fill="#12508e"/>
<circle cx="371.6" cy="243.6" r="1.05" fill="#12508e"/>
<circle cx="397.2" cy="242.7" r="1.05" fill="#12508e"/>
<circle cx="372.4" cy="245.2" r="1.05" fill="#12508e"/>
<circle cx="386.4" cy="243.6" r="1.05" fill="#12508e"/>
<circle cx="398.0" cy="246.9" r="1.05" fill="#12508e"/>
<circle cx="407.9" cy="244.4" r="1.05" fill="#12508e"/>
<circle cx="384.8" cy="248.5" r="1.05" fill="#12508e"/>
<circle cx="392.2" cy="247.7" r="1.05" fill="#12508e"/>
<circle cx="394.7" cy="249.0" r="1.05" fill="#12508e"/>
<circle cx="388.1" cy="252.8" r="1.05" fill="#12508e"/>
<circle cx="401.3" cy="251.9" r="1.05" fill="#12508e"/>
<circle cx="423.6" cy="252.4" r="1.05" fill="#12508e"/>
<circle cx="392.2" cy="259.5" r="1.05" fill="#12508e"/>
<circle cx="373.6" cy="264.0" r="1.05" fill="#12508e"/>
<circle cx="376.9" cy="262.4" r="1.05" fill="#12508e"/>
<circle cx="387.3" cy="266.5" r="1.05" fill="#12508e"/>
<circle cx="377.4" cy="272.6" r="1.05" fill="#12508e"/>
<circle cx="374.5" cy="295.4" r="1.05" fill="#12508e"/>
<circle cx="442.6" cy="189.4" r="1.05" fill="#12508e"/>
<circle cx="458.2" cy="189.9" r="1.05" fill="#12508e"/>
<circle cx="468.6" cy="191.9" r="1.05" fill="#12508e"/>
<circle cx="440.4" cy="192.8" r="1.05" fill="#12508e"/>
<circle cx="444.8" cy="194.9" r="1.05" fill="#12508e"/>
<circle cx="462.8" cy="197.5" r="1.05" fill="#12508e"/>
<circle cx="468.3" cy="198.7" r="1.05" fill="#12508e"/>
<circle cx="442.3" cy="203.0" r="1.05" fill="#12508e"/>
<circle cx="445.4" cy="201.1" r="1.05" fill="#12508e"/>
<circle cx="439.8" cy="197.1" r="1.05" fill="#12508e"/>
<circle cx="435.0" cy="200.4" r="1.05" fill="#12508e"/>
<circle cx="437.4" cy="211.2" r="1.05" fill="#12508e"/>
<circle cx="454.8" cy="234.7" r="1.05" fill="#12508e"/>
<circle cx="485.8" cy="227.0" r="1.05" fill="#12508e"/>
<circle cx="397.6" cy="200.4" r="1.05" fill="#12508e"/>
<circle cx="387.3" cy="205.4" r="1.05" fill="#12508e"/>
<circle cx="391.0" cy="204.5" r="1.05" fill="#12508e"/>
<circle cx="393.0" cy="205.0" r="1.05" fill="#12508e"/>
<circle cx="383.6" cy="207.9" r="1.05" fill="#12508e"/>
<circle cx="388.9" cy="207.4" r="1.05" fill="#12508e"/>
<circle cx="391.0" cy="211.2" r="1.05" fill="#12508e"/>
<circle cx="390.6" cy="214.0" r="1.05" fill="#12508e"/>
<circle cx="396.0" cy="212.8" r="1.05" fill="#12508e"/>
<circle cx="399.3" cy="213.2" r="1.05" fill="#12508e"/>
<circle cx="379.4" cy="218.8" r="1.05" fill="#12508e"/>
<circle cx="394.3" cy="218.0" r="1.05" fill="#12508e"/>
<circle cx="380.2" cy="221.5" r="1.05" fill="#12508e"/>
<circle cx="384.8" cy="222.3" r="1.05" fill="#12508e"/>
<circle cx="386.4" cy="224.0" r="1.05" fill="#12508e"/>
<circle cx="396.4" cy="221.9" r="1.05" fill="#12508e"/>
<circle cx="379.4" cy="225.6" r="1.05" fill="#12508e"/>
<circle cx="384.0" cy="226.4" r="1.05" fill="#12508e"/>
<circle cx="389.3" cy="227.3" r="1.05" fill="#12508e"/>
<circle cx="379.8" cy="227.3" r="1.05" fill="#12508e"/>
<circle cx="376.5" cy="229.8" r="1.05" fill="#12508e"/>
<circle cx="383.1" cy="228.5" r="1.05" fill="#12508e"/>
<circle cx="391.0" cy="228.5" r="1.05" fill="#12508e"/>
<circle cx="394.3" cy="228.5" r="1.05" fill="#12508e"/>
<circle cx="388.1" cy="233.5" r="1.05" fill="#12508e"/>
<circle cx="391.8" cy="233.9" r="1.05" fill="#12508e"/>
<circle cx="399.7" cy="233.9" r="1.05" fill="#12508e"/>
<circle cx="377.8" cy="238.0" r="1.05" fill="#12508e"/>
<circle cx="384.0" cy="235.1" r="1.05" fill="#12508e"/>
<circle cx="386.0" cy="237.2" r="1.05" fill="#12508e"/>
<circle cx="388.1" cy="236.4" r="1.05" fill="#12508e"/>
<circle cx="390.2" cy="235.5" r="1.05" fill="#12508e"/>
<circle cx="391.0" cy="238.0" r="1.05" fill="#12508e"/>
<circle cx="392.6" cy="236.8" r="1.05" fill="#12508e"/>
<circle cx="379.8" cy="238.8" r="1.05" fill="#12508e"/>
<circle cx="489.0" cy="224.3" r="1.05" fill="#c8102e"/>
<circle cx="493.8" cy="228.4" r="1.05" fill="#c8102e"/>
<circle cx="487.1" cy="230.5" r="1.05" fill="#c8102e"/>
<circle cx="501.2" cy="232.6" r="1.05" fill="#c8102e"/>
<circle cx="486.6" cy="233.8" r="1.05" fill="#c8102e"/>
<circle cx="489.4" cy="235.5" r="1.05" fill="#c8102e"/>
<circle cx="485.7" cy="236.8" r="1.05" fill="#c8102e"/>
<circle cx="482.9" cy="239.2" r="1.05" fill="#c8102e"/>
<circle cx="487.8" cy="240.2" r="1.05" fill="#c8102e"/>
<circle cx="495.2" cy="242.0" r="1.05" fill="#c8102e"/>
<circle cx="480.0" cy="242.3" r="1.05" fill="#c8102e"/>
<circle cx="480.1" cy="245.4" r="1.05" fill="#c8102e"/>
<circle cx="482.5" cy="246.7" r="1.05" fill="#c8102e"/>
<circle cx="502.1" cy="247.6" r="1.05" fill="#c8102e"/>
<circle cx="505.8" cy="247.6" r="1.05" fill="#c8102e"/>
<circle cx="460.3" cy="250.1" r="1.05" fill="#c8102e"/>
<circle cx="500.8" cy="251.0" r="1.05" fill="#c8102e"/>
<circle cx="491.5" cy="251.3" r="1.05" fill="#c8102e"/>
<circle cx="473.6" cy="252.2" r="1.05" fill="#c8102e"/>
<circle cx="461.8" cy="256.9" r="1.05" fill="#c8102e"/>
<circle cx="499.2" cy="260.0" r="1.05" fill="#c8102e"/>
<circle cx="489.4" cy="264.8" r="1.05" fill="#c8102e"/>
<circle cx="504.9" cy="265.0" r="1.05" fill="#c8102e"/>
<line x1="365.8732" y1="240.67" x2="485.5" y2="168.2" stroke="#12508e" stroke-width="1.5" />
<circle cx="450.4" cy="301.2" r="1.6" fill="#c8102e"/>
<circle cx="450.4" cy="310.2" r="1.6" fill="#12508e"/>
<text x="455.3" y="303.8" font-size="7.7" fill="#161616" stroke="#161616" stroke-width="0.12" text-anchor="start" font-weight="normal" textLength="54.6" lengthAdjust="spacingAndGlyphs" >CDX2/UBTF ALL</text>
<text x="455.3" y="312.3" font-size="7.7" fill="#161616" stroke="#161616" stroke-width="0.12" text-anchor="start" font-weight="normal" textLength="41.3" lengthAdjust="spacingAndGlyphs" >Other B-ALL</text>
<text x="7.2" y="352.8" font-size="11.2" fill="#000" stroke="#000" stroke-width="0.35" text-anchor="start" font-weight="bold" >D</text>
<line x1="93" y1="351" x2="355" y2="351" stroke="#4a4a4a" stroke-width="1.3" />
<path d="M90.9 351 L95.6 348.7 L95 351 L95.6 353.3 Z" fill="#111"/>
<path d="M358.7 351 L354 348.7 L354.6 351 L354 353.3 Z" fill="#111"/>
<line x1="54.5" y1="350.9" x2="58.8" y2="350.9" stroke="#111" stroke-width="1.3" />
<path d="M52.2 350.9 L56.2 348.8 L55.6 350.9 L56.2 353 Z" fill="#111"/>
<line x1="68" y1="350.9" x2="76.6" y2="350.9" stroke="#111" stroke-width="1.3" />
<path d="M66 350.9 L70 348.8 L69.4 350.9 L70 353 Z" fill="#111"/>
<rect x="179.2" y="344.1" width="36.8" height="24.6" fill="#d3d3d3" />
<text x="40" y="359.6" font-size="7.6" fill="#161616" stroke="#161616" stroke-width="0.12" text-anchor="start" font-weight="normal" textLength="40.4" lengthAdjust="spacingAndGlyphs" >CDX2 URAD</text>
<text x="124.3" y="359.8" font-size="7.6" fill="#161616" stroke="#161616" stroke-width="0.12" text-anchor="start" font-weight="normal" textLength="16.3" lengthAdjust="spacingAndGlyphs" >FLT3</text>
<text x="276.9" y="360.5" font-size="7.6" fill="#161616" stroke="#161616" stroke-width="0.12" text-anchor="start" font-weight="normal" textLength="20.3" lengthAdjust="spacingAndGlyphs" >PAN3</text>
<rect x="51.8" y="364.2" width="7" height="2.8" fill="#c8102e" />
<rect x="119.6" y="364.2" width="37.1" height="3" fill="#3fae49" />
<rect x="176.7" y="364.2" width="37.3" height="3.3" fill="#5c2170" />
<text x="51.2" y="377.4" font-size="7.8" fill="#c8102e" stroke="#c8102e" stroke-width="0.12" text-anchor="middle" font-weight="normal" textLength="19.4" lengthAdjust="spacingAndGlyphs" >CDX2</text>
<text x="51.05" y="386.9" font-size="7.8" fill="#c8102e" stroke="#c8102e" stroke-width="0.12" text-anchor="middle" font-weight="normal" textLength="32.9" lengthAdjust="spacingAndGlyphs" >RNA FISH</text>
<text x="134.65" y="378.1" font-size="7.6" fill="#3fae49" stroke="#3fae49" stroke-width="0.12" text-anchor="middle" font-weight="normal" textLength="51.1" lengthAdjust="spacingAndGlyphs" >G248P8671B10</text>
<text x="136.5" y="386.7" font-size="7.6" fill="#3fae49" stroke="#3fae49" stroke-width="0.12" text-anchor="middle" font-weight="normal" textLength="33.4" lengthAdjust="spacingAndGlyphs" >DNA FISH</text>
<text x="194.45" y="378.1" font-size="7.6" fill="#5c2170" stroke="#5c2170" stroke-width="0.12" text-anchor="middle" font-weight="normal" textLength="46.9" lengthAdjust="spacingAndGlyphs" >G248P8885B5</text>
<text x="193.75" y="386.7" font-size="7.6" fill="#5c2170" stroke="#5c2170" stroke-width="0.12" text-anchor="middle" font-weight="normal" textLength="33.7" lengthAdjust="spacingAndGlyphs" >DNA FISH</text>
<defs>
<filter id="bl2" x="-50%" y="-50%" width="200%" height="200%"><feGaussianBlur stdDeviation="2.5"/></filter>
<filter id="bl4" x="-50%" y="-50%" width="200%" height="200%"><feGaussianBlur stdDeviation="4"/></filter>
<filter id="bl6" x="-50%" y="-50%" width="200%" height="200%"><feGaussianBlur stdDeviation="6"/></filter>
<filter id="bl3" x="-50%" y="-50%" width="200%" height="200%"><feGaussianBlur stdDeviation="4.2"/></filter>
<filter id="bl1" x="-50%" y="-50%" width="200%" height="200%"><feGaussianBlur stdDeviation="0.7"/></filter>
<filter id="nz" x="0" y="0" width="100%" height="100%"><feTurbulence type="fractalNoise" baseFrequency="0.45" numOctaves="2" seed="4"/><feColorMatrix type="matrix" values="0 0 0 0 0  0 0 0 0 0  0 0 0 0 0  0 0 0 -2.2 1.45"/></filter>
<radialGradient id="gD"><stop offset="0" stop-color="#8e8e8e"/><stop offset="0.5" stop-color="#858585"/><stop offset="0.72" stop-color="#6e6e6e"/><stop offset="0.86" stop-color="#464646"/><stop offset="1" stop-color="#0a0a0a"/></radialGradient>
<radialGradient id="gR"><stop offset="0" stop-color="#7a0f13"/><stop offset="0.5" stop-color="#720d11"/><stop offset="0.72" stop-color="#5e0a0e"/><stop offset="0.86" stop-color="#3a0608"/><stop offset="1" stop-color="#070202"/></radialGradient>
<radialGradient id="gR2"><stop offset="0" stop-color="#cc2830" stop-opacity="0.9"/><stop offset="0.5" stop-color="#b81e26" stop-opacity="0.45"/><stop offset="1" stop-color="#a01a20" stop-opacity="0"/></radialGradient>
<radialGradient id="gG"><stop offset="0" stop-color="#1e8a3c"/><stop offset="0.5" stop-color="#1b8036"/><stop offset="0.72" stop-color="#156a2c"/><stop offset="0.86" stop-color="#0c431b"/><stop offset="1" stop-color="#020602"/></radialGradient>
<radialGradient id="gM"><stop offset="0" stop-color="#8e2898"/><stop offset="0.5" stop-color="#872592"/><stop offset="0.72" stop-color="#701e7a"/><stop offset="0.86" stop-color="#46124d"/><stop offset="1" stop-color="#060206"/></radialGradient>
<radialGradient id="gM2"><stop offset="0" stop-color="#c85ad0" stop-opacity="0.7"/><stop offset="0.5" stop-color="#b848c0" stop-opacity="0.35"/><stop offset="1" stop-color="#b040b8" stop-opacity="0"/></radialGradient>
<radialGradient id="gW"><stop offset="0" stop-color="#505050"/><stop offset="0.5" stop-color="#3a3a3a"/><stop offset="1" stop-color="#222" stop-opacity="0"/></radialGradient>
<radialGradient id="gGg"><stop offset="0" stop-color="#1a7a30"/><stop offset="1" stop-color="#0a3010" stop-opacity="0"/></radialGradient>
<clipPath id="c1"><rect x="30" y="395" width="82" height="82"/></clipPath>
<clipPath id="c2"><rect x="114" y="395" width="81.5" height="82"/></clipPath>
<clipPath id="c3"><rect x="198" y="395" width="82" height="82"/></clipPath>
<clipPath id="c4"><rect x="282" y="395" width="82" height="82"/></clipPath>
</defs>
<rect x="30" y="395" width="82" height="82" fill="#0a0a0a"/>
<rect x="114" y="395" width="81.5" height="82" fill="#070202"/>
<rect x="198" y="395" width="82" height="82" fill="#020602"/>
<rect x="282" y="395" width="82" height="82" fill="#060206"/>
<g clip-path="url(#c1)"><ellipse cx="71.6" cy="438.2" rx="29.5" ry="27.5" fill="#7c7c7c" filter="url(#bl3)"/><ellipse cx="113" cy="476" rx="15" ry="17" fill="url(#gW)"/></g>
<g clip-path="url(#c2)"><ellipse cx="153" cy="442.5" rx="34" ry="33" fill="#560a0d" filter="url(#bl3)"/><ellipse cx="163" cy="431" rx="16" ry="12" fill="url(#gR2)" transform="rotate(20 163 431)"/><ellipse cx="141.5" cy="459" rx="14" ry="12" fill="url(#gR2)"/><circle cx="143.3" cy="415.3" r="1.2" fill="#e83030" filter="url(#bl1)"/></g>
<g clip-path="url(#c3)"><ellipse cx="237" cy="438.6" rx="32" ry="28" fill="#187538" filter="url(#bl3)"/><ellipse cx="279" cy="474" rx="9" ry="9" fill="url(#gGg)"/><circle cx="229" cy="413.6" r="1.4" fill="#44ff66" filter="url(#bl1)"/><ellipse cx="246.6" cy="463.6" rx="2.6" ry="1.8" fill="#55ff77" filter="url(#bl1)" transform="rotate(-30 246.6 463.6)"/></g>
<g clip-path="url(#c4)"><ellipse cx="321.8" cy="439.9" rx="30.5" ry="27.5" fill="#80238a" filter="url(#bl3)"/><ellipse cx="327.8" cy="428.9" rx="13" ry="11" fill="url(#gM2)"/><ellipse cx="310" cy="453.5" rx="12" ry="10" fill="url(#gM2)"/><circle cx="332" cy="462.8" r="1.2" fill="#c050c8" filter="url(#bl1)"/><ellipse cx="364" cy="476" rx="8" ry="6" fill="#5a1a60" filter="url(#bl2)"/></g>
<rect x="30" y="395" width="82" height="82" filter="url(#nz)" opacity="0.16"/>
<rect x="114" y="395" width="81.5" height="82" filter="url(#nz)" opacity="0.16"/>
<rect x="198" y="395" width="82" height="82" filter="url(#nz)" opacity="0.16"/>
<rect x="282" y="395" width="82" height="82" filter="url(#nz)" opacity="0.16"/>
<text x="108.3" y="402.4" font-size="6.9" fill="#eee" stroke="#eee" stroke-width="0.15" text-anchor="end" textLength="16.7" lengthAdjust="spacingAndGlyphs">DAPI</text>
<text x="190.4" y="402.4" font-size="6.9" fill="#eee" stroke="#eee" stroke-width="0.15" text-anchor="end" textLength="37.5" lengthAdjust="spacingAndGlyphs">CDX2 RNA</text>
<text x="275.2" y="402.4" font-size="6.9" fill="#eee" stroke="#eee" stroke-width="0.15" text-anchor="end" textLength="52.6" lengthAdjust="spacingAndGlyphs">G248P8671B10</text>
<text x="359.8" y="402.4" font-size="6.9" fill="#eee" stroke="#eee" stroke-width="0.15" text-anchor="end" textLength="48.7" lengthAdjust="spacingAndGlyphs">G248P8885B5</text>
<path d="M128.8 412.4 L136.6 414.7 L128.8 417 L130.3 414.7 Z" fill="#fff"/>
<path d="M214.8 412.4 L222.8 414.7 L214.8 417 L216.3 414.7 Z" fill="#fff"/>
<path d="M251.20 466.40L251.20 469.40M252.50 467.15L249.90 468.65M252.50 468.65L249.90 467.15" stroke="#fff" stroke-width="0.8" fill="none"/>
<path d="M336.10 466.20L336.10 469.20M337.40 466.95L334.80 468.45M337.40 468.45L334.80 466.95" stroke="#fff" stroke-width="0.8" fill="none"/>
<rect x="351.6" y="472" width="9.2" height="1.6" fill="#ddd"/>
<rect x="0.5" y="0.5" width="519" height="483" fill="none" stroke="#000" stroke-width="1"/>
</svg></body></html>
